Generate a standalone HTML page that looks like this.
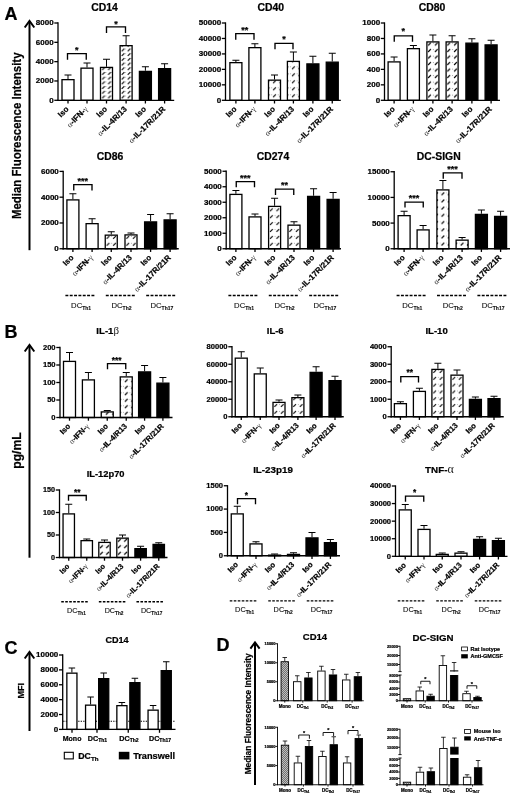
<!DOCTYPE html>
<html><head><meta charset="utf-8"><title>Figure</title>
<style>html,body{margin:0;padding:0;background:#fff}svg{display:block}text{stroke:#000;stroke-width:.22px}text.r,tspan.g{stroke:none}</style>
</head><body>
<svg width="520" height="798" viewBox="0 0 520 798" font-family='"Liberation Sans", sans-serif'>
<defs>
<pattern id="mono" width="2" height="2" patternUnits="userSpaceOnUse">
<rect width="2" height="2" fill="#e4e4e4"/>
<path d="M0 2L2 0M-0.5 0.5L0.5 -0.5M1.5 2.5L2.5 1.5" stroke="#222" stroke-width="0.6"/>
<path d="M0 0L2 2" stroke="#777" stroke-width="0.35"/>
</pattern>
</defs>
<rect width="520" height="798" fill="#fff"/>
<text x="4.6" y="20.2" font-size="18" font-weight="bold" text-anchor="start" fill="#000" >A</text>
<text x="4.6" y="338.4" font-size="18" font-weight="bold" text-anchor="start" fill="#000" >B</text>
<text x="4.6" y="653.8" font-size="18" font-weight="bold" text-anchor="start" fill="#000" >C</text>
<text x="216.4" y="651.3" font-size="18" font-weight="bold" text-anchor="start" fill="#000" >D</text>
<line x1="29.5" y1="22" x2="29.5" y2="250.2" stroke="#000" stroke-width="2" />
<polyline points="24.7,27.5 29.5,21 34.3,27.5" fill="none" stroke="#000" stroke-width="2" stroke-linejoin="miter"/>
<text x="21" y="135.8" font-size="12" font-weight="bold" text-anchor="middle" fill="#000" transform="rotate(-90 21 135.8)" textLength="166.6" lengthAdjust="spacingAndGlyphs">Median Fluorescence Intensity</text>
<line x1="29.5" y1="346" x2="29.5" y2="557.7" stroke="#000" stroke-width="2" />
<polyline points="24.7,351.5 29.5,345 34.3,351.5" fill="none" stroke="#000" stroke-width="2" stroke-linejoin="miter"/>
<text x="20.5" y="450.5" font-size="12.2" font-weight="bold" text-anchor="middle" fill="#000" transform="rotate(-90 20.5 450.5)" >pg/mL</text>
<line x1="29.5" y1="653" x2="29.5" y2="731" stroke="#000" stroke-width="2" />
<polyline points="24.7,658.5 29.5,652 34.3,658.5" fill="none" stroke="#000" stroke-width="2" stroke-linejoin="miter"/>
<text x="24.4" y="690.8" font-size="9" font-weight="bold" text-anchor="middle" fill="#000" transform="rotate(-90 24.4 690.8)" >MFI</text>
<line x1="255" y1="643.5" x2="255" y2="785" stroke="#000" stroke-width="2" />
<polyline points="250.4,648.7 255,642.5 259.6,648.7" fill="none" stroke="#000" stroke-width="2" stroke-linejoin="miter"/>
<text x="250.6" y="713.8" font-size="8.7" font-weight="bold" text-anchor="middle" fill="#000" transform="rotate(-90 250.6 713.8)" textLength="121" lengthAdjust="spacingAndGlyphs">Median Fluorescence Intensity</text>
<line x1="68" y1="79" x2="68" y2="75" stroke="#000" stroke-width="1" />
<line x1="64.5" y1="75" x2="71.5" y2="75" stroke="#000" stroke-width="1" />
<rect x="62" y="79.65" width="12" height="20.65" fill="#fff" stroke="#000" stroke-width="1.3"/>
<line x1="87" y1="67.5" x2="87" y2="63" stroke="#000" stroke-width="1" />
<line x1="83.5" y1="63" x2="90.5" y2="63" stroke="#000" stroke-width="1" />
<rect x="81" y="68.15" width="12" height="32.15" fill="#fff" stroke="#000" stroke-width="1.3"/>
<line x1="106.5" y1="66.75" x2="106.5" y2="59.25" stroke="#000" stroke-width="1" />
<line x1="103" y1="59.25" x2="110" y2="59.25" stroke="#000" stroke-width="1" />
<pattern id="h1" width="6" height="4.7" patternUnits="userSpaceOnUse" x="106.5" y="99.3"><rect width="6" height="4.7" fill="#fff"/><line x1="1.65" y1="3.7" x2="4.35" y2="1" stroke="#000" stroke-width="1.15"/><circle cx="5.9" cy="1.35" r="0.42" fill="#444"/></pattern>
<rect x="100.5" y="67.4" width="12" height="32.9" fill="url(#h1)" stroke="#000" stroke-width="1.3"/>
<line x1="126.1" y1="45" x2="126.1" y2="35.75" stroke="#000" stroke-width="1" />
<line x1="122.6" y1="35.75" x2="129.6" y2="35.75" stroke="#000" stroke-width="1" />
<pattern id="h2" width="6" height="4.7" patternUnits="userSpaceOnUse" x="126.1" y="99.3"><rect width="6" height="4.7" fill="#fff"/><line x1="1.65" y1="3.7" x2="4.35" y2="1" stroke="#000" stroke-width="1.15"/><circle cx="5.9" cy="1.35" r="0.42" fill="#444"/></pattern>
<rect x="120.1" y="45.65" width="12" height="54.65" fill="url(#h2)" stroke="#000" stroke-width="1.3"/>
<line x1="145.4" y1="70.75" x2="145.4" y2="66.75" stroke="#000" stroke-width="1" />
<line x1="141.9" y1="66.75" x2="148.9" y2="66.75" stroke="#000" stroke-width="1" />
<rect x="139.4" y="71.4" width="12" height="28.9" fill="#000" stroke="#000" stroke-width="1.3"/>
<line x1="164.6" y1="68" x2="164.6" y2="63.75" stroke="#000" stroke-width="1" />
<line x1="161.1" y1="63.75" x2="168.1" y2="63.75" stroke="#000" stroke-width="1" />
<rect x="158.6" y="68.65" width="12" height="31.65" fill="#000" stroke="#000" stroke-width="1.3"/>
<line x1="58" y1="22.35" x2="58" y2="100.95" stroke="#000" stroke-width="1.3" />
<line x1="57.35" y1="100.3" x2="174.2" y2="100.3" stroke="#000" stroke-width="1.3" />
<line x1="54.3" y1="23" x2="58" y2="23" stroke="#000" stroke-width="1.3" />
<text x="53.6" y="25.48" font-size="8" font-weight="bold" text-anchor="end" fill="#000" >8000</text>
<line x1="54.3" y1="42.33" x2="58" y2="42.33" stroke="#000" stroke-width="1.3" />
<text x="53.6" y="44.8" font-size="8" font-weight="bold" text-anchor="end" fill="#000" >6000</text>
<line x1="54.3" y1="61.65" x2="58" y2="61.65" stroke="#000" stroke-width="1.3" />
<text x="53.6" y="64.13" font-size="8" font-weight="bold" text-anchor="end" fill="#000" >4000</text>
<line x1="54.3" y1="80.97" x2="58" y2="80.97" stroke="#000" stroke-width="1.3" />
<text x="53.6" y="83.45" font-size="8" font-weight="bold" text-anchor="end" fill="#000" >2000</text>
<line x1="54.3" y1="100.3" x2="58" y2="100.3" stroke="#000" stroke-width="1.3" />
<text x="53.6" y="102.78" font-size="8" font-weight="bold" text-anchor="end" fill="#000" >0</text>
<line x1="68" y1="100.3" x2="68" y2="103.5" stroke="#000" stroke-width="1.3" />
<text x="69.3" y="109.6" font-size="8" font-weight="bold" text-anchor="end" fill="#000" transform="rotate(-45 69.3 109.6)" >Iso</text>
<line x1="87" y1="100.3" x2="87" y2="103.5" stroke="#000" stroke-width="1.3" />
<text x="88.3" y="109.6" font-size="8" font-weight="bold" text-anchor="end" fill="#000" transform="rotate(-45 88.3 109.6)" ><tspan class="g" font-family='"Liberation Serif", serif' font-weight="normal" fill="#333">α</tspan>-IFN-<tspan class="g" font-family='"Liberation Serif", serif' font-weight="normal" fill="#333">γ</tspan></text>
<line x1="106.5" y1="100.3" x2="106.5" y2="103.5" stroke="#000" stroke-width="1.3" />
<text x="107.8" y="109.6" font-size="8" font-weight="bold" text-anchor="end" fill="#000" transform="rotate(-45 107.8 109.6)" >Iso</text>
<line x1="126.1" y1="100.3" x2="126.1" y2="103.5" stroke="#000" stroke-width="1.3" />
<text x="127.4" y="109.6" font-size="8" font-weight="bold" text-anchor="end" fill="#000" transform="rotate(-45 127.4 109.6)" ><tspan class="g" font-family='"Liberation Serif", serif' font-weight="normal" fill="#333">α</tspan>-IL-4R/13</text>
<line x1="145.4" y1="100.3" x2="145.4" y2="103.5" stroke="#000" stroke-width="1.3" />
<text x="146.7" y="109.6" font-size="8" font-weight="bold" text-anchor="end" fill="#000" transform="rotate(-45 146.7 109.6)" >Iso</text>
<line x1="164.6" y1="100.3" x2="164.6" y2="103.5" stroke="#000" stroke-width="1.3" />
<text x="165.9" y="109.6" font-size="8" font-weight="bold" text-anchor="end" fill="#000" transform="rotate(-45 165.9 109.6)" ><tspan class="g" font-family='"Liberation Serif", serif' font-weight="normal" fill="#333">α</tspan>-IL-17R/21R</text>
<polyline points="67.5,59.75 67.5,53.55 86.25,53.55 86.25,59.75" fill="none" stroke="#000" stroke-width="1.35"/>
<text x="76.88" y="53.48" font-size="9" font-weight="bold" text-anchor="middle" fill="#000" >*</text>
<polyline points="106.5,33 106.5,26.9 125.5,26.9 125.5,33" fill="none" stroke="#000" stroke-width="1.35"/>
<text x="116" y="27.09" font-size="9" font-weight="bold" text-anchor="middle" fill="#000" >*</text>
<text x="104.5" y="10.74" font-size="10.4" font-weight="bold" text-anchor="middle" fill="#000" >CD14</text>
<line x1="235.9" y1="62" x2="235.9" y2="60.25" stroke="#000" stroke-width="1" />
<line x1="232.4" y1="60.25" x2="239.4" y2="60.25" stroke="#000" stroke-width="1" />
<rect x="229.9" y="62.65" width="12" height="37.65" fill="#fff" stroke="#000" stroke-width="1.3"/>
<line x1="254.9" y1="47" x2="254.9" y2="43.75" stroke="#000" stroke-width="1" />
<line x1="251.4" y1="43.75" x2="258.4" y2="43.75" stroke="#000" stroke-width="1" />
<rect x="248.9" y="47.65" width="12" height="52.65" fill="#fff" stroke="#000" stroke-width="1.3"/>
<line x1="274.5" y1="79.5" x2="274.5" y2="75" stroke="#000" stroke-width="1" />
<line x1="271" y1="75" x2="278" y2="75" stroke="#000" stroke-width="1" />
<pattern id="h3" width="6.5" height="7" patternUnits="userSpaceOnUse" x="271.25" y="99.3"><rect width="6.5" height="7" fill="#fff"/><line x1="1.9" y1="4.85" x2="4.6" y2="2.15" stroke="#000" stroke-width="1.15"/><circle cx="0.15" cy="2.5" r="0.42" fill="#444"/></pattern>
<rect x="268.5" y="80.15" width="12" height="20.15" fill="url(#h3)" stroke="#000" stroke-width="1.3"/>
<line x1="293.4" y1="60.75" x2="293.4" y2="52" stroke="#000" stroke-width="1" />
<line x1="289.9" y1="52" x2="296.9" y2="52" stroke="#000" stroke-width="1" />
<pattern id="h4" width="6.5" height="7" patternUnits="userSpaceOnUse" x="290.15" y="99.3"><rect width="6.5" height="7" fill="#fff"/><line x1="1.9" y1="4.85" x2="4.6" y2="2.15" stroke="#000" stroke-width="1.15"/><circle cx="0.15" cy="2.5" r="0.42" fill="#444"/></pattern>
<rect x="287.4" y="61.4" width="12" height="38.9" fill="url(#h4)" stroke="#000" stroke-width="1.3"/>
<line x1="312.9" y1="63.25" x2="312.9" y2="56.25" stroke="#000" stroke-width="1" />
<line x1="309.4" y1="56.25" x2="316.4" y2="56.25" stroke="#000" stroke-width="1" />
<rect x="306.9" y="63.9" width="12" height="36.4" fill="#000" stroke="#000" stroke-width="1.3"/>
<line x1="332.25" y1="61.5" x2="332.25" y2="53.25" stroke="#000" stroke-width="1" />
<line x1="328.75" y1="53.25" x2="335.75" y2="53.25" stroke="#000" stroke-width="1" />
<rect x="326.25" y="62.15" width="12" height="38.15" fill="#000" stroke="#000" stroke-width="1.3"/>
<line x1="225.5" y1="22.35" x2="225.5" y2="100.95" stroke="#000" stroke-width="1.3" />
<line x1="224.85" y1="100.3" x2="340.8" y2="100.3" stroke="#000" stroke-width="1.3" />
<line x1="221.8" y1="23" x2="225.5" y2="23" stroke="#000" stroke-width="1.3" />
<text x="221.1" y="25.48" font-size="8" font-weight="bold" text-anchor="end" fill="#000" >50000</text>
<line x1="221.8" y1="38.46" x2="225.5" y2="38.46" stroke="#000" stroke-width="1.3" />
<text x="221.1" y="40.94" font-size="8" font-weight="bold" text-anchor="end" fill="#000" >40000</text>
<line x1="221.8" y1="53.92" x2="225.5" y2="53.92" stroke="#000" stroke-width="1.3" />
<text x="221.1" y="56.4" font-size="8" font-weight="bold" text-anchor="end" fill="#000" >30000</text>
<line x1="221.8" y1="69.38" x2="225.5" y2="69.38" stroke="#000" stroke-width="1.3" />
<text x="221.1" y="71.86" font-size="8" font-weight="bold" text-anchor="end" fill="#000" >20000</text>
<line x1="221.8" y1="84.84" x2="225.5" y2="84.84" stroke="#000" stroke-width="1.3" />
<text x="221.1" y="87.32" font-size="8" font-weight="bold" text-anchor="end" fill="#000" >10000</text>
<line x1="221.8" y1="100.3" x2="225.5" y2="100.3" stroke="#000" stroke-width="1.3" />
<text x="221.1" y="102.78" font-size="8" font-weight="bold" text-anchor="end" fill="#000" >0</text>
<line x1="235.9" y1="100.3" x2="235.9" y2="103.5" stroke="#000" stroke-width="1.3" />
<text x="237.2" y="109.6" font-size="8" font-weight="bold" text-anchor="end" fill="#000" transform="rotate(-45 237.2 109.6)" >Iso</text>
<line x1="254.9" y1="100.3" x2="254.9" y2="103.5" stroke="#000" stroke-width="1.3" />
<text x="256.2" y="109.6" font-size="8" font-weight="bold" text-anchor="end" fill="#000" transform="rotate(-45 256.2 109.6)" ><tspan class="g" font-family='"Liberation Serif", serif' font-weight="normal" fill="#333">α</tspan>-IFN-<tspan class="g" font-family='"Liberation Serif", serif' font-weight="normal" fill="#333">γ</tspan></text>
<line x1="274.5" y1="100.3" x2="274.5" y2="103.5" stroke="#000" stroke-width="1.3" />
<text x="275.8" y="109.6" font-size="8" font-weight="bold" text-anchor="end" fill="#000" transform="rotate(-45 275.8 109.6)" >Iso</text>
<line x1="293.4" y1="100.3" x2="293.4" y2="103.5" stroke="#000" stroke-width="1.3" />
<text x="294.7" y="109.6" font-size="8" font-weight="bold" text-anchor="end" fill="#000" transform="rotate(-45 294.7 109.6)" ><tspan class="g" font-family='"Liberation Serif", serif' font-weight="normal" fill="#333">α</tspan>-IL-4R/13</text>
<line x1="312.9" y1="100.3" x2="312.9" y2="103.5" stroke="#000" stroke-width="1.3" />
<text x="314.2" y="109.6" font-size="8" font-weight="bold" text-anchor="end" fill="#000" transform="rotate(-45 314.2 109.6)" >Iso</text>
<line x1="332.25" y1="100.3" x2="332.25" y2="103.5" stroke="#000" stroke-width="1.3" />
<text x="333.55" y="109.6" font-size="8" font-weight="bold" text-anchor="end" fill="#000" transform="rotate(-45 333.55 109.6)" ><tspan class="g" font-family='"Liberation Serif", serif' font-weight="normal" fill="#333">α</tspan>-IL-17R/21R</text>
<polyline points="235.75,39.75 235.75,33.55 254,33.55 254,39.75" fill="none" stroke="#000" stroke-width="1.35"/>
<text x="244.88" y="33.19" font-size="9" font-weight="bold" text-anchor="middle" fill="#000" >**</text>
<polyline points="275,49.25 275,43.3 293,43.3 293,49.25" fill="none" stroke="#000" stroke-width="1.35"/>
<text x="284" y="41.98" font-size="9" font-weight="bold" text-anchor="middle" fill="#000" >*</text>
<text x="270.75" y="10.74" font-size="10.4" font-weight="bold" text-anchor="middle" fill="#000" >CD40</text>
<line x1="394.1" y1="61.25" x2="394.1" y2="57" stroke="#000" stroke-width="1" />
<line x1="390.6" y1="57" x2="397.6" y2="57" stroke="#000" stroke-width="1" />
<rect x="388.1" y="61.9" width="12" height="38.4" fill="#fff" stroke="#000" stroke-width="1.3"/>
<line x1="413.4" y1="48" x2="413.4" y2="45.5" stroke="#000" stroke-width="1" />
<line x1="409.9" y1="45.5" x2="416.9" y2="45.5" stroke="#000" stroke-width="1" />
<rect x="407.4" y="48.65" width="12" height="51.65" fill="#fff" stroke="#000" stroke-width="1.3"/>
<line x1="432.9" y1="41.25" x2="432.9" y2="35" stroke="#000" stroke-width="1" />
<line x1="429.4" y1="35" x2="436.4" y2="35" stroke="#000" stroke-width="1" />
<pattern id="h5" width="6.8" height="6.5" patternUnits="userSpaceOnUse" x="432.9" y="99.3"><rect width="6.8" height="6.5" fill="#fff"/><line x1="2.05" y1="4.6" x2="4.75" y2="1.9" stroke="#000" stroke-width="1.15"/><circle cx="0.3" cy="2.25" r="0.42" fill="#444"/></pattern>
<rect x="426.9" y="41.9" width="12" height="58.4" fill="url(#h5)" stroke="#000" stroke-width="1.3"/>
<line x1="452.1" y1="41.25" x2="452.1" y2="35.75" stroke="#000" stroke-width="1" />
<line x1="448.6" y1="35.75" x2="455.6" y2="35.75" stroke="#000" stroke-width="1" />
<pattern id="h6" width="6.8" height="6.5" patternUnits="userSpaceOnUse" x="452.1" y="99.3"><rect width="6.8" height="6.5" fill="#fff"/><line x1="2.05" y1="4.6" x2="4.75" y2="1.9" stroke="#000" stroke-width="1.15"/><circle cx="0.3" cy="2.25" r="0.42" fill="#444"/></pattern>
<rect x="446.1" y="41.9" width="12" height="58.4" fill="url(#h6)" stroke="#000" stroke-width="1.3"/>
<line x1="471.9" y1="42.5" x2="471.9" y2="38.75" stroke="#000" stroke-width="1" />
<line x1="468.4" y1="38.75" x2="475.4" y2="38.75" stroke="#000" stroke-width="1" />
<rect x="465.9" y="43.15" width="12" height="57.15" fill="#000" stroke="#000" stroke-width="1.3"/>
<line x1="491.1" y1="44.25" x2="491.1" y2="40.25" stroke="#000" stroke-width="1" />
<line x1="487.6" y1="40.25" x2="494.6" y2="40.25" stroke="#000" stroke-width="1" />
<rect x="485.1" y="44.9" width="12" height="55.4" fill="#000" stroke="#000" stroke-width="1.3"/>
<line x1="384.5" y1="22.35" x2="384.5" y2="100.95" stroke="#000" stroke-width="1.3" />
<line x1="383.85" y1="100.3" x2="500" y2="100.3" stroke="#000" stroke-width="1.3" />
<line x1="380.8" y1="23" x2="384.5" y2="23" stroke="#000" stroke-width="1.3" />
<text x="380.1" y="25.48" font-size="8" font-weight="bold" text-anchor="end" fill="#000" >1000</text>
<line x1="380.8" y1="38.46" x2="384.5" y2="38.46" stroke="#000" stroke-width="1.3" />
<text x="380.1" y="40.94" font-size="8" font-weight="bold" text-anchor="end" fill="#000" >800</text>
<line x1="380.8" y1="53.92" x2="384.5" y2="53.92" stroke="#000" stroke-width="1.3" />
<text x="380.1" y="56.4" font-size="8" font-weight="bold" text-anchor="end" fill="#000" >600</text>
<line x1="380.8" y1="69.38" x2="384.5" y2="69.38" stroke="#000" stroke-width="1.3" />
<text x="380.1" y="71.86" font-size="8" font-weight="bold" text-anchor="end" fill="#000" >400</text>
<line x1="380.8" y1="84.84" x2="384.5" y2="84.84" stroke="#000" stroke-width="1.3" />
<text x="380.1" y="87.32" font-size="8" font-weight="bold" text-anchor="end" fill="#000" >200</text>
<line x1="380.8" y1="100.3" x2="384.5" y2="100.3" stroke="#000" stroke-width="1.3" />
<text x="380.1" y="102.78" font-size="8" font-weight="bold" text-anchor="end" fill="#000" >0</text>
<line x1="394.1" y1="100.3" x2="394.1" y2="103.5" stroke="#000" stroke-width="1.3" />
<text x="395.4" y="109.6" font-size="8" font-weight="bold" text-anchor="end" fill="#000" transform="rotate(-45 395.4 109.6)" >Iso</text>
<line x1="413.4" y1="100.3" x2="413.4" y2="103.5" stroke="#000" stroke-width="1.3" />
<text x="414.7" y="109.6" font-size="8" font-weight="bold" text-anchor="end" fill="#000" transform="rotate(-45 414.7 109.6)" ><tspan class="g" font-family='"Liberation Serif", serif' font-weight="normal" fill="#333">α</tspan>-IFN-<tspan class="g" font-family='"Liberation Serif", serif' font-weight="normal" fill="#333">γ</tspan></text>
<line x1="432.9" y1="100.3" x2="432.9" y2="103.5" stroke="#000" stroke-width="1.3" />
<text x="434.2" y="109.6" font-size="8" font-weight="bold" text-anchor="end" fill="#000" transform="rotate(-45 434.2 109.6)" >Iso</text>
<line x1="452.1" y1="100.3" x2="452.1" y2="103.5" stroke="#000" stroke-width="1.3" />
<text x="453.4" y="109.6" font-size="8" font-weight="bold" text-anchor="end" fill="#000" transform="rotate(-45 453.4 109.6)" ><tspan class="g" font-family='"Liberation Serif", serif' font-weight="normal" fill="#333">α</tspan>-IL-4R/13</text>
<line x1="471.9" y1="100.3" x2="471.9" y2="103.5" stroke="#000" stroke-width="1.3" />
<text x="473.2" y="109.6" font-size="8" font-weight="bold" text-anchor="end" fill="#000" transform="rotate(-45 473.2 109.6)" >Iso</text>
<line x1="491.1" y1="100.3" x2="491.1" y2="103.5" stroke="#000" stroke-width="1.3" />
<text x="492.4" y="109.6" font-size="8" font-weight="bold" text-anchor="end" fill="#000" transform="rotate(-45 492.4 109.6)" ><tspan class="g" font-family='"Liberation Serif", serif' font-weight="normal" fill="#333">α</tspan>-IL-17R/21R</text>
<polyline points="394.25,41.75 394.25,35.8 412.5,35.8 412.5,41.75" fill="none" stroke="#000" stroke-width="1.35"/>
<text x="403.38" y="34.19" font-size="9" font-weight="bold" text-anchor="middle" fill="#000" >*</text>
<text x="432" y="10.74" font-size="10.4" font-weight="bold" text-anchor="middle" fill="#000" >CD80</text>
<line x1="72.9" y1="199.25" x2="72.9" y2="193.75" stroke="#000" stroke-width="1" />
<line x1="69.4" y1="193.75" x2="76.4" y2="193.75" stroke="#000" stroke-width="1" />
<rect x="66.9" y="199.9" width="12" height="48.85" fill="#fff" stroke="#000" stroke-width="1.3"/>
<line x1="92.1" y1="223" x2="92.1" y2="218.75" stroke="#000" stroke-width="1" />
<line x1="88.6" y1="218.75" x2="95.6" y2="218.75" stroke="#000" stroke-width="1" />
<rect x="86.1" y="223.65" width="12" height="25.1" fill="#fff" stroke="#000" stroke-width="1.3"/>
<line x1="111.25" y1="234.5" x2="111.25" y2="231.75" stroke="#000" stroke-width="1" />
<line x1="107.75" y1="231.75" x2="114.75" y2="231.75" stroke="#000" stroke-width="1" />
<pattern id="h7" width="6.5" height="6.9" patternUnits="userSpaceOnUse" x="111.25" y="247.75"><rect width="6.5" height="6.9" fill="#fff"/><line x1="1.9" y1="4.8" x2="4.6" y2="2.1" stroke="#000" stroke-width="1.15"/><circle cx="0.15" cy="2.45" r="0.42" fill="#444"/></pattern>
<rect x="105.25" y="235.15" width="12" height="13.6" fill="url(#h7)" stroke="#000" stroke-width="1.3"/>
<line x1="131" y1="234.25" x2="131" y2="233" stroke="#000" stroke-width="1" />
<line x1="127.5" y1="233" x2="134.5" y2="233" stroke="#000" stroke-width="1" />
<pattern id="h8" width="6.5" height="6.9" patternUnits="userSpaceOnUse" x="131" y="247.75"><rect width="6.5" height="6.9" fill="#fff"/><line x1="1.9" y1="4.8" x2="4.6" y2="2.1" stroke="#000" stroke-width="1.15"/><circle cx="0.15" cy="2.45" r="0.42" fill="#444"/></pattern>
<rect x="125" y="234.9" width="12" height="13.85" fill="url(#h8)" stroke="#000" stroke-width="1.3"/>
<line x1="150.6" y1="221.25" x2="150.6" y2="214.5" stroke="#000" stroke-width="1" />
<line x1="147.1" y1="214.5" x2="154.1" y2="214.5" stroke="#000" stroke-width="1" />
<rect x="144.6" y="221.9" width="12" height="26.85" fill="#000" stroke="#000" stroke-width="1.3"/>
<line x1="170.1" y1="219.25" x2="170.1" y2="213.75" stroke="#000" stroke-width="1" />
<line x1="166.6" y1="213.75" x2="173.6" y2="213.75" stroke="#000" stroke-width="1" />
<rect x="164.1" y="219.9" width="12" height="28.85" fill="#000" stroke="#000" stroke-width="1.3"/>
<line x1="63.2" y1="170.75" x2="63.2" y2="249.4" stroke="#000" stroke-width="1.3" />
<line x1="62.55" y1="248.75" x2="178.75" y2="248.75" stroke="#000" stroke-width="1.3" />
<line x1="59.5" y1="171.4" x2="63.2" y2="171.4" stroke="#000" stroke-width="1.3" />
<text x="58.8" y="173.88" font-size="8" font-weight="bold" text-anchor="end" fill="#000" >6000</text>
<line x1="59.5" y1="197.18" x2="63.2" y2="197.18" stroke="#000" stroke-width="1.3" />
<text x="58.8" y="199.66" font-size="8" font-weight="bold" text-anchor="end" fill="#000" >4000</text>
<line x1="59.5" y1="222.97" x2="63.2" y2="222.97" stroke="#000" stroke-width="1.3" />
<text x="58.8" y="225.45" font-size="8" font-weight="bold" text-anchor="end" fill="#000" >2000</text>
<line x1="59.5" y1="248.75" x2="63.2" y2="248.75" stroke="#000" stroke-width="1.3" />
<text x="58.8" y="251.23" font-size="8" font-weight="bold" text-anchor="end" fill="#000" >0</text>
<line x1="72.9" y1="248.75" x2="72.9" y2="251.95" stroke="#000" stroke-width="1.3" />
<text x="74.2" y="258.05" font-size="8" font-weight="bold" text-anchor="end" fill="#000" transform="rotate(-45 74.2 258.05)" >Iso</text>
<line x1="92.1" y1="248.75" x2="92.1" y2="251.95" stroke="#000" stroke-width="1.3" />
<text x="93.4" y="258.05" font-size="8" font-weight="bold" text-anchor="end" fill="#000" transform="rotate(-45 93.4 258.05)" ><tspan class="g" font-family='"Liberation Serif", serif' font-weight="normal" fill="#333">α</tspan>-IFN-<tspan class="g" font-family='"Liberation Serif", serif' font-weight="normal" fill="#333">γ</tspan></text>
<line x1="111.25" y1="248.75" x2="111.25" y2="251.95" stroke="#000" stroke-width="1.3" />
<text x="112.55" y="258.05" font-size="8" font-weight="bold" text-anchor="end" fill="#000" transform="rotate(-45 112.55 258.05)" >Iso</text>
<line x1="131" y1="248.75" x2="131" y2="251.95" stroke="#000" stroke-width="1.3" />
<text x="132.3" y="258.05" font-size="8" font-weight="bold" text-anchor="end" fill="#000" transform="rotate(-45 132.3 258.05)" ><tspan class="g" font-family='"Liberation Serif", serif' font-weight="normal" fill="#333">α</tspan>-IL-4R/13</text>
<line x1="150.6" y1="248.75" x2="150.6" y2="251.95" stroke="#000" stroke-width="1.3" />
<text x="151.9" y="258.05" font-size="8" font-weight="bold" text-anchor="end" fill="#000" transform="rotate(-45 151.9 258.05)" >Iso</text>
<line x1="170.1" y1="248.75" x2="170.1" y2="251.95" stroke="#000" stroke-width="1.3" />
<text x="171.4" y="258.05" font-size="8" font-weight="bold" text-anchor="end" fill="#000" transform="rotate(-45 171.4 258.05)" ><tspan class="g" font-family='"Liberation Serif", serif' font-weight="normal" fill="#333">α</tspan>-IL-17R/21R</text>
<polyline points="73.75,190.5 73.75,184.55 92,184.55 92,190.5" fill="none" stroke="#000" stroke-width="1.35"/>
<text x="82.88" y="183.69" font-size="9" font-weight="bold" text-anchor="middle" fill="#000" >***</text>
<text x="110" y="159.64" font-size="10.4" font-weight="bold" text-anchor="middle" fill="#000" >CD86</text>
<line x1="65.4" y1="295.5" x2="94.4" y2="295.5" stroke="#000" stroke-width="1.3" stroke-dasharray="2.94 1.4"/>
<text class="r" x="81.1" y="307.5" font-size="7.7" font-weight="normal" text-anchor="middle" fill="#111" style="stroke:#111;stroke-width:.12px">DC<tspan font-size="5" font-weight="bold" dy="2.1">Th1</tspan></text>
<line x1="105.8" y1="295.5" x2="134.8" y2="295.5" stroke="#000" stroke-width="1.3" stroke-dasharray="2.94 1.4"/>
<text class="r" x="121.5" y="307.5" font-size="7.7" font-weight="normal" text-anchor="middle" fill="#111" style="stroke:#111;stroke-width:.12px">DC<tspan font-size="5" font-weight="bold" dy="2.1">Th2</tspan></text>
<line x1="146.2" y1="295.5" x2="175.2" y2="295.5" stroke="#000" stroke-width="1.3" stroke-dasharray="2.94 1.4"/>
<text class="r" x="161.9" y="307.5" font-size="7.7" font-weight="normal" text-anchor="middle" fill="#111" style="stroke:#111;stroke-width:.12px">DC<tspan font-size="5" font-weight="bold" dy="2.1">Th17</tspan></text>
<line x1="235.9" y1="193.75" x2="235.9" y2="190.5" stroke="#000" stroke-width="1" />
<line x1="232.4" y1="190.5" x2="239.4" y2="190.5" stroke="#000" stroke-width="1" />
<rect x="229.9" y="194.4" width="12" height="54.35" fill="#fff" stroke="#000" stroke-width="1.3"/>
<line x1="255" y1="216.25" x2="255" y2="214" stroke="#000" stroke-width="1" />
<line x1="251.5" y1="214" x2="258.5" y2="214" stroke="#000" stroke-width="1" />
<rect x="249" y="216.9" width="12" height="31.85" fill="#fff" stroke="#000" stroke-width="1.3"/>
<line x1="274.6" y1="205.75" x2="274.6" y2="198.25" stroke="#000" stroke-width="1" />
<line x1="271.1" y1="198.25" x2="278.1" y2="198.25" stroke="#000" stroke-width="1" />
<pattern id="h9" width="6.5" height="6.9" patternUnits="userSpaceOnUse" x="274.6" y="247.75"><rect width="6.5" height="6.9" fill="#fff"/><line x1="1.9" y1="4.8" x2="4.6" y2="2.1" stroke="#000" stroke-width="1.15"/><circle cx="0.15" cy="2.45" r="0.42" fill="#444"/></pattern>
<rect x="268.6" y="206.4" width="12" height="42.35" fill="url(#h9)" stroke="#000" stroke-width="1.3"/>
<line x1="294" y1="224.5" x2="294" y2="221.75" stroke="#000" stroke-width="1" />
<line x1="290.5" y1="221.75" x2="297.5" y2="221.75" stroke="#000" stroke-width="1" />
<pattern id="h10" width="6.5" height="6.9" patternUnits="userSpaceOnUse" x="294" y="247.75"><rect width="6.5" height="6.9" fill="#fff"/><line x1="1.9" y1="4.8" x2="4.6" y2="2.1" stroke="#000" stroke-width="1.15"/><circle cx="0.15" cy="2.45" r="0.42" fill="#444"/></pattern>
<rect x="288" y="225.15" width="12" height="23.6" fill="url(#h10)" stroke="#000" stroke-width="1.3"/>
<line x1="313.6" y1="195.75" x2="313.6" y2="188.75" stroke="#000" stroke-width="1" />
<line x1="310.1" y1="188.75" x2="317.1" y2="188.75" stroke="#000" stroke-width="1" />
<rect x="307.6" y="196.4" width="12" height="52.35" fill="#000" stroke="#000" stroke-width="1.3"/>
<line x1="333.1" y1="198.75" x2="333.1" y2="192.5" stroke="#000" stroke-width="1" />
<line x1="329.6" y1="192.5" x2="336.6" y2="192.5" stroke="#000" stroke-width="1" />
<rect x="327.1" y="199.4" width="12" height="49.35" fill="#000" stroke="#000" stroke-width="1.3"/>
<line x1="226.2" y1="170.6" x2="226.2" y2="249.4" stroke="#000" stroke-width="1.3" />
<line x1="225.55" y1="248.75" x2="341" y2="248.75" stroke="#000" stroke-width="1.3" />
<line x1="222.5" y1="171.25" x2="226.2" y2="171.25" stroke="#000" stroke-width="1.3" />
<text x="221.8" y="173.73" font-size="8" font-weight="bold" text-anchor="end" fill="#000" >5000</text>
<line x1="222.5" y1="186.75" x2="226.2" y2="186.75" stroke="#000" stroke-width="1.3" />
<text x="221.8" y="189.23" font-size="8" font-weight="bold" text-anchor="end" fill="#000" >4000</text>
<line x1="222.5" y1="202.25" x2="226.2" y2="202.25" stroke="#000" stroke-width="1.3" />
<text x="221.8" y="204.73" font-size="8" font-weight="bold" text-anchor="end" fill="#000" >3000</text>
<line x1="222.5" y1="217.75" x2="226.2" y2="217.75" stroke="#000" stroke-width="1.3" />
<text x="221.8" y="220.23" font-size="8" font-weight="bold" text-anchor="end" fill="#000" >2000</text>
<line x1="222.5" y1="233.25" x2="226.2" y2="233.25" stroke="#000" stroke-width="1.3" />
<text x="221.8" y="235.73" font-size="8" font-weight="bold" text-anchor="end" fill="#000" >1000</text>
<line x1="222.5" y1="248.75" x2="226.2" y2="248.75" stroke="#000" stroke-width="1.3" />
<text x="221.8" y="251.23" font-size="8" font-weight="bold" text-anchor="end" fill="#000" >0</text>
<line x1="235.9" y1="248.75" x2="235.9" y2="251.95" stroke="#000" stroke-width="1.3" />
<text x="237.2" y="258.05" font-size="8" font-weight="bold" text-anchor="end" fill="#000" transform="rotate(-45 237.2 258.05)" >Iso</text>
<line x1="255" y1="248.75" x2="255" y2="251.95" stroke="#000" stroke-width="1.3" />
<text x="256.3" y="258.05" font-size="8" font-weight="bold" text-anchor="end" fill="#000" transform="rotate(-45 256.3 258.05)" ><tspan class="g" font-family='"Liberation Serif", serif' font-weight="normal" fill="#333">α</tspan>-IFN-<tspan class="g" font-family='"Liberation Serif", serif' font-weight="normal" fill="#333">γ</tspan></text>
<line x1="274.6" y1="248.75" x2="274.6" y2="251.95" stroke="#000" stroke-width="1.3" />
<text x="275.9" y="258.05" font-size="8" font-weight="bold" text-anchor="end" fill="#000" transform="rotate(-45 275.9 258.05)" >Iso</text>
<line x1="294" y1="248.75" x2="294" y2="251.95" stroke="#000" stroke-width="1.3" />
<text x="295.3" y="258.05" font-size="8" font-weight="bold" text-anchor="end" fill="#000" transform="rotate(-45 295.3 258.05)" ><tspan class="g" font-family='"Liberation Serif", serif' font-weight="normal" fill="#333">α</tspan>-IL-4R/13</text>
<line x1="313.6" y1="248.75" x2="313.6" y2="251.95" stroke="#000" stroke-width="1.3" />
<text x="314.9" y="258.05" font-size="8" font-weight="bold" text-anchor="end" fill="#000" transform="rotate(-45 314.9 258.05)" >Iso</text>
<line x1="333.1" y1="248.75" x2="333.1" y2="251.95" stroke="#000" stroke-width="1.3" />
<text x="334.4" y="258.05" font-size="8" font-weight="bold" text-anchor="end" fill="#000" transform="rotate(-45 334.4 258.05)" ><tspan class="g" font-family='"Liberation Serif", serif' font-weight="normal" fill="#333">α</tspan>-IL-17R/21R</text>
<polyline points="236.25,187.25 236.25,181.55 254.5,181.55 254.5,187.25" fill="none" stroke="#000" stroke-width="1.35"/>
<text x="245.38" y="180.69" font-size="9" font-weight="bold" text-anchor="middle" fill="#000" >***</text>
<polyline points="275.5,195 275.5,189.05 293.75,189.05 293.75,195" fill="none" stroke="#000" stroke-width="1.35"/>
<text x="284.62" y="188.19" font-size="9" font-weight="bold" text-anchor="middle" fill="#000" >**</text>
<text x="273" y="159.64" font-size="10.4" font-weight="bold" text-anchor="middle" fill="#000" >CD274</text>
<line x1="228.4" y1="295.5" x2="257.4" y2="295.5" stroke="#000" stroke-width="1.3" stroke-dasharray="2.94 1.4"/>
<text class="r" x="244.1" y="307.5" font-size="7.7" font-weight="normal" text-anchor="middle" fill="#111" style="stroke:#111;stroke-width:.12px">DC<tspan font-size="5" font-weight="bold" dy="2.1">Th1</tspan></text>
<line x1="268.8" y1="295.5" x2="297.8" y2="295.5" stroke="#000" stroke-width="1.3" stroke-dasharray="2.94 1.4"/>
<text class="r" x="284.5" y="307.5" font-size="7.7" font-weight="normal" text-anchor="middle" fill="#111" style="stroke:#111;stroke-width:.12px">DC<tspan font-size="5" font-weight="bold" dy="2.1">Th2</tspan></text>
<line x1="309.2" y1="295.5" x2="338.2" y2="295.5" stroke="#000" stroke-width="1.3" stroke-dasharray="2.94 1.4"/>
<text class="r" x="324.9" y="307.5" font-size="7.7" font-weight="normal" text-anchor="middle" fill="#111" style="stroke:#111;stroke-width:.12px">DC<tspan font-size="5" font-weight="bold" dy="2.1">Th17</tspan></text>
<line x1="404.1" y1="215" x2="404.1" y2="211.25" stroke="#000" stroke-width="1" />
<line x1="400.6" y1="211.25" x2="407.6" y2="211.25" stroke="#000" stroke-width="1" />
<rect x="398.1" y="215.65" width="12" height="33.1" fill="#fff" stroke="#000" stroke-width="1.3"/>
<line x1="423.1" y1="229.25" x2="423.1" y2="225.5" stroke="#000" stroke-width="1" />
<line x1="419.6" y1="225.5" x2="426.6" y2="225.5" stroke="#000" stroke-width="1" />
<rect x="417.1" y="229.9" width="12" height="18.85" fill="#fff" stroke="#000" stroke-width="1.3"/>
<line x1="442.9" y1="189.25" x2="442.9" y2="180.5" stroke="#000" stroke-width="1" />
<line x1="439.4" y1="180.5" x2="446.4" y2="180.5" stroke="#000" stroke-width="1" />
<pattern id="h11" width="6.3" height="7.2" patternUnits="userSpaceOnUse" x="439.75" y="247.75"><rect width="6.3" height="7.2" fill="#fff"/><line x1="1.8" y1="4.95" x2="4.5" y2="2.25" stroke="#000" stroke-width="1.15"/><circle cx="0.05" cy="2.6" r="0.42" fill="#444"/></pattern>
<rect x="436.9" y="189.9" width="12" height="58.85" fill="url(#h11)" stroke="#000" stroke-width="1.3"/>
<line x1="462.1" y1="239.5" x2="462.1" y2="237.5" stroke="#000" stroke-width="1" />
<line x1="458.6" y1="237.5" x2="465.6" y2="237.5" stroke="#000" stroke-width="1" />
<pattern id="h12" width="6.3" height="7.2" patternUnits="userSpaceOnUse" x="458.95" y="247.75"><rect width="6.3" height="7.2" fill="#fff"/><line x1="1.8" y1="4.95" x2="4.5" y2="2.25" stroke="#000" stroke-width="1.15"/><circle cx="0.05" cy="2.6" r="0.42" fill="#444"/></pattern>
<rect x="456.1" y="240.15" width="12" height="8.6" fill="url(#h12)" stroke="#000" stroke-width="1.3"/>
<line x1="481.4" y1="213.75" x2="481.4" y2="210" stroke="#000" stroke-width="1" />
<line x1="477.9" y1="210" x2="484.9" y2="210" stroke="#000" stroke-width="1" />
<rect x="475.4" y="214.4" width="12" height="34.35" fill="#000" stroke="#000" stroke-width="1.3"/>
<line x1="500.6" y1="215.75" x2="500.6" y2="211.25" stroke="#000" stroke-width="1" />
<line x1="497.1" y1="211.25" x2="504.1" y2="211.25" stroke="#000" stroke-width="1" />
<rect x="494.6" y="216.4" width="12" height="32.35" fill="#000" stroke="#000" stroke-width="1.3"/>
<line x1="394.2" y1="171.1" x2="394.2" y2="249.4" stroke="#000" stroke-width="1.3" />
<line x1="393.55" y1="248.75" x2="510" y2="248.75" stroke="#000" stroke-width="1.3" />
<line x1="390.5" y1="171.75" x2="394.2" y2="171.75" stroke="#000" stroke-width="1.3" />
<text x="389.8" y="174.23" font-size="8" font-weight="bold" text-anchor="end" fill="#000" >15000</text>
<line x1="390.5" y1="197.42" x2="394.2" y2="197.42" stroke="#000" stroke-width="1.3" />
<text x="389.8" y="199.9" font-size="8" font-weight="bold" text-anchor="end" fill="#000" >10000</text>
<line x1="390.5" y1="223.08" x2="394.2" y2="223.08" stroke="#000" stroke-width="1.3" />
<text x="389.8" y="225.56" font-size="8" font-weight="bold" text-anchor="end" fill="#000" >5000</text>
<line x1="390.5" y1="248.75" x2="394.2" y2="248.75" stroke="#000" stroke-width="1.3" />
<text x="389.8" y="251.23" font-size="8" font-weight="bold" text-anchor="end" fill="#000" >0</text>
<line x1="404.1" y1="248.75" x2="404.1" y2="251.95" stroke="#000" stroke-width="1.3" />
<text x="405.4" y="258.05" font-size="8" font-weight="bold" text-anchor="end" fill="#000" transform="rotate(-45 405.4 258.05)" >Iso</text>
<line x1="423.1" y1="248.75" x2="423.1" y2="251.95" stroke="#000" stroke-width="1.3" />
<text x="424.4" y="258.05" font-size="8" font-weight="bold" text-anchor="end" fill="#000" transform="rotate(-45 424.4 258.05)" ><tspan class="g" font-family='"Liberation Serif", serif' font-weight="normal" fill="#333">α</tspan>-IFN-<tspan class="g" font-family='"Liberation Serif", serif' font-weight="normal" fill="#333">γ</tspan></text>
<line x1="442.9" y1="248.75" x2="442.9" y2="251.95" stroke="#000" stroke-width="1.3" />
<text x="444.2" y="258.05" font-size="8" font-weight="bold" text-anchor="end" fill="#000" transform="rotate(-45 444.2 258.05)" >Iso</text>
<line x1="462.1" y1="248.75" x2="462.1" y2="251.95" stroke="#000" stroke-width="1.3" />
<text x="463.4" y="258.05" font-size="8" font-weight="bold" text-anchor="end" fill="#000" transform="rotate(-45 463.4 258.05)" ><tspan class="g" font-family='"Liberation Serif", serif' font-weight="normal" fill="#333">α</tspan>-IL-4R/13</text>
<line x1="481.4" y1="248.75" x2="481.4" y2="251.95" stroke="#000" stroke-width="1.3" />
<text x="482.7" y="258.05" font-size="8" font-weight="bold" text-anchor="end" fill="#000" transform="rotate(-45 482.7 258.05)" >Iso</text>
<line x1="500.6" y1="248.75" x2="500.6" y2="251.95" stroke="#000" stroke-width="1.3" />
<text x="501.9" y="258.05" font-size="8" font-weight="bold" text-anchor="end" fill="#000" transform="rotate(-45 501.9 258.05)" ><tspan class="g" font-family='"Liberation Serif", serif' font-weight="normal" fill="#333">α</tspan>-IL-17R/21R</text>
<polyline points="405,207.5 405,202.05 423.25,202.05 423.25,207.5" fill="none" stroke="#000" stroke-width="1.35"/>
<text x="414.12" y="201.19" font-size="9" font-weight="bold" text-anchor="middle" fill="#000" >***</text>
<polyline points="443.25,178.75 443.25,172.8 462,172.8 462,178.75" fill="none" stroke="#000" stroke-width="1.35"/>
<text x="452.62" y="171.78" font-size="9" font-weight="bold" text-anchor="middle" fill="#000" >***</text>
<text x="438.75" y="159.64" font-size="10.4" font-weight="bold" text-anchor="middle" fill="#000" >DC-SIGN</text>
<line x1="396.6" y1="295.5" x2="425.6" y2="295.5" stroke="#000" stroke-width="1.3" stroke-dasharray="2.94 1.4"/>
<text class="r" x="412.3" y="307.5" font-size="7.7" font-weight="normal" text-anchor="middle" fill="#111" style="stroke:#111;stroke-width:.12px">DC<tspan font-size="5" font-weight="bold" dy="2.1">Th1</tspan></text>
<line x1="437" y1="295.5" x2="466" y2="295.5" stroke="#000" stroke-width="1.3" stroke-dasharray="2.94 1.4"/>
<text class="r" x="452.7" y="307.5" font-size="7.7" font-weight="normal" text-anchor="middle" fill="#111" style="stroke:#111;stroke-width:.12px">DC<tspan font-size="5" font-weight="bold" dy="2.1">Th2</tspan></text>
<line x1="477.4" y1="295.5" x2="506.4" y2="295.5" stroke="#000" stroke-width="1.3" stroke-dasharray="2.94 1.4"/>
<text class="r" x="493.1" y="307.5" font-size="7.7" font-weight="normal" text-anchor="middle" fill="#111" style="stroke:#111;stroke-width:.12px">DC<tspan font-size="5" font-weight="bold" dy="2.1">Th17</tspan></text>
<line x1="69.5" y1="360.75" x2="69.5" y2="352.5" stroke="#000" stroke-width="1" />
<line x1="66" y1="352.5" x2="73" y2="352.5" stroke="#000" stroke-width="1" />
<rect x="63.5" y="361.4" width="12" height="56.1" fill="#fff" stroke="#000" stroke-width="1.3"/>
<line x1="88.4" y1="379.25" x2="88.4" y2="372.5" stroke="#000" stroke-width="1" />
<line x1="84.9" y1="372.5" x2="91.9" y2="372.5" stroke="#000" stroke-width="1" />
<rect x="82.4" y="379.9" width="12" height="37.6" fill="#fff" stroke="#000" stroke-width="1.3"/>
<line x1="107.25" y1="411.25" x2="107.25" y2="410.5" stroke="#000" stroke-width="1" />
<line x1="103.75" y1="410.5" x2="110.75" y2="410.5" stroke="#000" stroke-width="1" />
<pattern id="h13" width="6.5" height="6.5" patternUnits="userSpaceOnUse" x="104" y="416.5"><rect width="6.5" height="6.5" fill="#fff"/><line x1="1.9" y1="4.6" x2="4.6" y2="1.9" stroke="#000" stroke-width="1.15"/><circle cx="0.15" cy="2.25" r="0.42" fill="#444"/></pattern>
<rect x="101.25" y="411.9" width="12" height="5.6" fill="url(#h13)" stroke="#000" stroke-width="1.3"/>
<line x1="126.25" y1="376.25" x2="126.25" y2="372.5" stroke="#000" stroke-width="1" />
<line x1="122.75" y1="372.5" x2="129.75" y2="372.5" stroke="#000" stroke-width="1" />
<pattern id="h14" width="6.5" height="6.5" patternUnits="userSpaceOnUse" x="123" y="416.5"><rect width="6.5" height="6.5" fill="#fff"/><line x1="1.9" y1="4.6" x2="4.6" y2="1.9" stroke="#000" stroke-width="1.15"/><circle cx="0.15" cy="2.25" r="0.42" fill="#444"/></pattern>
<rect x="120.25" y="376.9" width="12" height="40.6" fill="url(#h14)" stroke="#000" stroke-width="1.3"/>
<line x1="144.6" y1="371.25" x2="144.6" y2="365.5" stroke="#000" stroke-width="1" />
<line x1="141.1" y1="365.5" x2="148.1" y2="365.5" stroke="#000" stroke-width="1" />
<rect x="138.6" y="371.9" width="12" height="45.6" fill="#000" stroke="#000" stroke-width="1.3"/>
<line x1="162.9" y1="382.5" x2="162.9" y2="377.5" stroke="#000" stroke-width="1" />
<line x1="159.4" y1="377.5" x2="166.4" y2="377.5" stroke="#000" stroke-width="1" />
<rect x="156.9" y="383.15" width="12" height="34.35" fill="#000" stroke="#000" stroke-width="1.3"/>
<line x1="60" y1="346.85" x2="60" y2="418.15" stroke="#000" stroke-width="1.3" />
<line x1="59.35" y1="417.5" x2="172.5" y2="417.5" stroke="#000" stroke-width="1.3" />
<line x1="56.3" y1="347.5" x2="60" y2="347.5" stroke="#000" stroke-width="1.3" />
<text x="55.6" y="349.86" font-size="7.6" font-weight="bold" text-anchor="end" fill="#000" >200</text>
<line x1="56.3" y1="365" x2="60" y2="365" stroke="#000" stroke-width="1.3" />
<text x="55.6" y="367.36" font-size="7.6" font-weight="bold" text-anchor="end" fill="#000" >150</text>
<line x1="56.3" y1="382.5" x2="60" y2="382.5" stroke="#000" stroke-width="1.3" />
<text x="55.6" y="384.86" font-size="7.6" font-weight="bold" text-anchor="end" fill="#000" >100</text>
<line x1="56.3" y1="400" x2="60" y2="400" stroke="#000" stroke-width="1.3" />
<text x="55.6" y="402.36" font-size="7.6" font-weight="bold" text-anchor="end" fill="#000" >50</text>
<line x1="56.3" y1="417.5" x2="60" y2="417.5" stroke="#000" stroke-width="1.3" />
<text x="55.6" y="419.86" font-size="7.6" font-weight="bold" text-anchor="end" fill="#000" >0</text>
<line x1="69.5" y1="417.5" x2="69.5" y2="420.7" stroke="#000" stroke-width="1.3" />
<text x="70.8" y="426.8" font-size="7.7" font-weight="bold" text-anchor="end" fill="#000" transform="rotate(-45 70.8 426.8)" >Iso</text>
<line x1="88.4" y1="417.5" x2="88.4" y2="420.7" stroke="#000" stroke-width="1.3" />
<text x="89.7" y="426.8" font-size="7.7" font-weight="bold" text-anchor="end" fill="#000" transform="rotate(-45 89.7 426.8)" ><tspan class="g" font-family='"Liberation Serif", serif' font-weight="normal" fill="#333">α</tspan>-IFN-<tspan class="g" font-family='"Liberation Serif", serif' font-weight="normal" fill="#333">γ</tspan></text>
<line x1="107.25" y1="417.5" x2="107.25" y2="420.7" stroke="#000" stroke-width="1.3" />
<text x="108.55" y="426.8" font-size="7.7" font-weight="bold" text-anchor="end" fill="#000" transform="rotate(-45 108.55 426.8)" >Iso</text>
<line x1="126.25" y1="417.5" x2="126.25" y2="420.7" stroke="#000" stroke-width="1.3" />
<text x="127.55" y="426.8" font-size="7.7" font-weight="bold" text-anchor="end" fill="#000" transform="rotate(-45 127.55 426.8)" ><tspan class="g" font-family='"Liberation Serif", serif' font-weight="normal" fill="#333">α</tspan>-IL-4/R13</text>
<line x1="144.6" y1="417.5" x2="144.6" y2="420.7" stroke="#000" stroke-width="1.3" />
<text x="145.9" y="426.8" font-size="7.7" font-weight="bold" text-anchor="end" fill="#000" transform="rotate(-45 145.9 426.8)" >Iso</text>
<line x1="162.9" y1="417.5" x2="162.9" y2="420.7" stroke="#000" stroke-width="1.3" />
<text x="164.2" y="426.8" font-size="7.7" font-weight="bold" text-anchor="end" fill="#000" transform="rotate(-45 164.2 426.8)" ><tspan class="g" font-family='"Liberation Serif", serif' font-weight="normal" fill="#333">α</tspan>-IL-17R/21R</text>
<polyline points="107.5,369.25 107.5,363.55 125.75,363.55 125.75,369.25" fill="none" stroke="#000" stroke-width="1.35"/>
<text x="116.62" y="362.75" font-size="8.4" font-weight="bold" text-anchor="middle" fill="#000" >***</text>
<text x="107.7" y="334.06" font-size="9.6" font-weight="bold" text-anchor="middle" fill="#000" >IL-1<tspan class="g" font-family='"Liberation Serif", serif' font-weight="normal" font-size="11" fill="#222">β</tspan></text>
<line x1="241.25" y1="357.5" x2="241.25" y2="351.75" stroke="#000" stroke-width="1" />
<line x1="237.75" y1="351.75" x2="244.75" y2="351.75" stroke="#000" stroke-width="1" />
<rect x="235.25" y="358.15" width="12" height="58.6" fill="#fff" stroke="#000" stroke-width="1.3"/>
<line x1="260.25" y1="373.25" x2="260.25" y2="368" stroke="#000" stroke-width="1" />
<line x1="256.75" y1="368" x2="263.75" y2="368" stroke="#000" stroke-width="1" />
<rect x="254.25" y="373.9" width="12" height="42.85" fill="#fff" stroke="#000" stroke-width="1.3"/>
<line x1="279" y1="401.75" x2="279" y2="400" stroke="#000" stroke-width="1" />
<line x1="275.5" y1="400" x2="282.5" y2="400" stroke="#000" stroke-width="1" />
<pattern id="h15" width="6.5" height="6.8" patternUnits="userSpaceOnUse" x="279" y="415.75"><rect width="6.5" height="6.8" fill="#fff"/><line x1="1.9" y1="4.75" x2="4.6" y2="2.05" stroke="#000" stroke-width="1.15"/><circle cx="0.15" cy="2.4" r="0.42" fill="#444"/></pattern>
<rect x="273" y="402.4" width="12" height="14.35" fill="url(#h15)" stroke="#000" stroke-width="1.3"/>
<line x1="297.9" y1="397" x2="297.9" y2="395" stroke="#000" stroke-width="1" />
<line x1="294.4" y1="395" x2="301.4" y2="395" stroke="#000" stroke-width="1" />
<pattern id="h16" width="6.5" height="6.8" patternUnits="userSpaceOnUse" x="297.9" y="415.75"><rect width="6.5" height="6.8" fill="#fff"/><line x1="1.9" y1="4.75" x2="4.6" y2="2.05" stroke="#000" stroke-width="1.15"/><circle cx="0.15" cy="2.4" r="0.42" fill="#444"/></pattern>
<rect x="291.9" y="397.65" width="12" height="19.1" fill="url(#h16)" stroke="#000" stroke-width="1.3"/>
<line x1="316.1" y1="371.75" x2="316.1" y2="366.75" stroke="#000" stroke-width="1" />
<line x1="312.6" y1="366.75" x2="319.6" y2="366.75" stroke="#000" stroke-width="1" />
<rect x="310.1" y="372.4" width="12" height="44.35" fill="#000" stroke="#000" stroke-width="1.3"/>
<line x1="335" y1="380" x2="335" y2="376.25" stroke="#000" stroke-width="1" />
<line x1="331.5" y1="376.25" x2="338.5" y2="376.25" stroke="#000" stroke-width="1" />
<rect x="329" y="380.65" width="12" height="36.1" fill="#000" stroke="#000" stroke-width="1.3"/>
<line x1="232" y1="346.1" x2="232" y2="417.4" stroke="#000" stroke-width="1.3" />
<line x1="231.35" y1="416.75" x2="343.75" y2="416.75" stroke="#000" stroke-width="1.3" />
<line x1="228.3" y1="346.75" x2="232" y2="346.75" stroke="#000" stroke-width="1.3" />
<text x="227.6" y="349.11" font-size="7.6" font-weight="bold" text-anchor="end" fill="#000" >80000</text>
<line x1="228.3" y1="364.25" x2="232" y2="364.25" stroke="#000" stroke-width="1.3" />
<text x="227.6" y="366.61" font-size="7.6" font-weight="bold" text-anchor="end" fill="#000" >60000</text>
<line x1="228.3" y1="381.75" x2="232" y2="381.75" stroke="#000" stroke-width="1.3" />
<text x="227.6" y="384.11" font-size="7.6" font-weight="bold" text-anchor="end" fill="#000" >40000</text>
<line x1="228.3" y1="399.25" x2="232" y2="399.25" stroke="#000" stroke-width="1.3" />
<text x="227.6" y="401.61" font-size="7.6" font-weight="bold" text-anchor="end" fill="#000" >20000</text>
<line x1="228.3" y1="416.75" x2="232" y2="416.75" stroke="#000" stroke-width="1.3" />
<text x="227.6" y="419.11" font-size="7.6" font-weight="bold" text-anchor="end" fill="#000" >0</text>
<line x1="241.25" y1="416.75" x2="241.25" y2="419.95" stroke="#000" stroke-width="1.3" />
<text x="242.55" y="426.05" font-size="7.7" font-weight="bold" text-anchor="end" fill="#000" transform="rotate(-45 242.55 426.05)" >Iso</text>
<line x1="260.25" y1="416.75" x2="260.25" y2="419.95" stroke="#000" stroke-width="1.3" />
<text x="261.55" y="426.05" font-size="7.7" font-weight="bold" text-anchor="end" fill="#000" transform="rotate(-45 261.55 426.05)" ><tspan class="g" font-family='"Liberation Serif", serif' font-weight="normal" fill="#333">α</tspan>-IFN-<tspan class="g" font-family='"Liberation Serif", serif' font-weight="normal" fill="#333">γ</tspan></text>
<line x1="279" y1="416.75" x2="279" y2="419.95" stroke="#000" stroke-width="1.3" />
<text x="280.3" y="426.05" font-size="7.7" font-weight="bold" text-anchor="end" fill="#000" transform="rotate(-45 280.3 426.05)" >Iso</text>
<line x1="297.9" y1="416.75" x2="297.9" y2="419.95" stroke="#000" stroke-width="1.3" />
<text x="299.2" y="426.05" font-size="7.7" font-weight="bold" text-anchor="end" fill="#000" transform="rotate(-45 299.2 426.05)" ><tspan class="g" font-family='"Liberation Serif", serif' font-weight="normal" fill="#333">α</tspan>-IL-4/R13</text>
<line x1="316.1" y1="416.75" x2="316.1" y2="419.95" stroke="#000" stroke-width="1.3" />
<text x="317.4" y="426.05" font-size="7.7" font-weight="bold" text-anchor="end" fill="#000" transform="rotate(-45 317.4 426.05)" >Iso</text>
<line x1="335" y1="416.75" x2="335" y2="419.95" stroke="#000" stroke-width="1.3" />
<text x="336.3" y="426.05" font-size="7.7" font-weight="bold" text-anchor="end" fill="#000" transform="rotate(-45 336.3 426.05)" ><tspan class="g" font-family='"Liberation Serif", serif' font-weight="normal" fill="#333">α</tspan>-IL-17R/21R</text>
<text x="275.2" y="334.02" font-size="9.5" font-weight="bold" text-anchor="middle" fill="#000" >IL-6</text>
<line x1="400.4" y1="403" x2="400.4" y2="401.75" stroke="#000" stroke-width="1" />
<line x1="396.9" y1="401.75" x2="403.9" y2="401.75" stroke="#000" stroke-width="1" />
<rect x="394.4" y="403.65" width="12" height="13.1" fill="#fff" stroke="#000" stroke-width="1.3"/>
<line x1="419.4" y1="390.75" x2="419.4" y2="388.25" stroke="#000" stroke-width="1" />
<line x1="415.9" y1="388.25" x2="422.9" y2="388.25" stroke="#000" stroke-width="1" />
<rect x="413.4" y="391.4" width="12" height="25.35" fill="#fff" stroke="#000" stroke-width="1.3"/>
<line x1="437.9" y1="368.75" x2="437.9" y2="363.25" stroke="#000" stroke-width="1" />
<line x1="434.4" y1="363.25" x2="441.4" y2="363.25" stroke="#000" stroke-width="1" />
<pattern id="h17" width="6.4" height="6.8" patternUnits="userSpaceOnUse" x="437.9" y="415.75"><rect width="6.4" height="6.8" fill="#fff"/><line x1="1.85" y1="4.75" x2="4.55" y2="2.05" stroke="#000" stroke-width="1.15"/><circle cx="0.1" cy="2.4" r="0.42" fill="#444"/></pattern>
<rect x="431.9" y="369.4" width="12" height="47.35" fill="url(#h17)" stroke="#000" stroke-width="1.3"/>
<line x1="457" y1="374.5" x2="457" y2="370" stroke="#000" stroke-width="1" />
<line x1="453.5" y1="370" x2="460.5" y2="370" stroke="#000" stroke-width="1" />
<pattern id="h18" width="6.4" height="6.8" patternUnits="userSpaceOnUse" x="457" y="415.75"><rect width="6.4" height="6.8" fill="#fff"/><line x1="1.85" y1="4.75" x2="4.55" y2="2.05" stroke="#000" stroke-width="1.15"/><circle cx="0.1" cy="2.4" r="0.42" fill="#444"/></pattern>
<rect x="451" y="375.15" width="12" height="41.6" fill="url(#h18)" stroke="#000" stroke-width="1.3"/>
<line x1="475.4" y1="398.75" x2="475.4" y2="397" stroke="#000" stroke-width="1" />
<line x1="471.9" y1="397" x2="478.9" y2="397" stroke="#000" stroke-width="1" />
<rect x="469.4" y="399.4" width="12" height="17.35" fill="#000" stroke="#000" stroke-width="1.3"/>
<line x1="494" y1="398" x2="494" y2="396.25" stroke="#000" stroke-width="1" />
<line x1="490.5" y1="396.25" x2="497.5" y2="396.25" stroke="#000" stroke-width="1" />
<rect x="488" y="398.65" width="12" height="18.1" fill="#000" stroke="#000" stroke-width="1.3"/>
<line x1="391.2" y1="346.1" x2="391.2" y2="417.4" stroke="#000" stroke-width="1.3" />
<line x1="390.55" y1="416.75" x2="503.75" y2="416.75" stroke="#000" stroke-width="1.3" />
<line x1="387.5" y1="346.75" x2="391.2" y2="346.75" stroke="#000" stroke-width="1.3" />
<text x="386.8" y="349.11" font-size="7.6" font-weight="bold" text-anchor="end" fill="#000" >4000</text>
<line x1="387.5" y1="364.25" x2="391.2" y2="364.25" stroke="#000" stroke-width="1.3" />
<text x="386.8" y="366.61" font-size="7.6" font-weight="bold" text-anchor="end" fill="#000" >3000</text>
<line x1="387.5" y1="381.75" x2="391.2" y2="381.75" stroke="#000" stroke-width="1.3" />
<text x="386.8" y="384.11" font-size="7.6" font-weight="bold" text-anchor="end" fill="#000" >2000</text>
<line x1="387.5" y1="399.25" x2="391.2" y2="399.25" stroke="#000" stroke-width="1.3" />
<text x="386.8" y="401.61" font-size="7.6" font-weight="bold" text-anchor="end" fill="#000" >1000</text>
<line x1="387.5" y1="416.75" x2="391.2" y2="416.75" stroke="#000" stroke-width="1.3" />
<text x="386.8" y="419.11" font-size="7.6" font-weight="bold" text-anchor="end" fill="#000" >0</text>
<line x1="400.4" y1="416.75" x2="400.4" y2="419.95" stroke="#000" stroke-width="1.3" />
<text x="401.7" y="426.05" font-size="7.7" font-weight="bold" text-anchor="end" fill="#000" transform="rotate(-45 401.7 426.05)" >Iso</text>
<line x1="419.4" y1="416.75" x2="419.4" y2="419.95" stroke="#000" stroke-width="1.3" />
<text x="420.7" y="426.05" font-size="7.7" font-weight="bold" text-anchor="end" fill="#000" transform="rotate(-45 420.7 426.05)" ><tspan class="g" font-family='"Liberation Serif", serif' font-weight="normal" fill="#333">α</tspan>-IFN-<tspan class="g" font-family='"Liberation Serif", serif' font-weight="normal" fill="#333">γ</tspan></text>
<line x1="437.9" y1="416.75" x2="437.9" y2="419.95" stroke="#000" stroke-width="1.3" />
<text x="439.2" y="426.05" font-size="7.7" font-weight="bold" text-anchor="end" fill="#000" transform="rotate(-45 439.2 426.05)" >Iso</text>
<line x1="457" y1="416.75" x2="457" y2="419.95" stroke="#000" stroke-width="1.3" />
<text x="458.3" y="426.05" font-size="7.7" font-weight="bold" text-anchor="end" fill="#000" transform="rotate(-45 458.3 426.05)" ><tspan class="g" font-family='"Liberation Serif", serif' font-weight="normal" fill="#333">α</tspan>-IL-4/R13</text>
<line x1="475.4" y1="416.75" x2="475.4" y2="419.95" stroke="#000" stroke-width="1.3" />
<text x="476.7" y="426.05" font-size="7.7" font-weight="bold" text-anchor="end" fill="#000" transform="rotate(-45 476.7 426.05)" >Iso</text>
<line x1="494" y1="416.75" x2="494" y2="419.95" stroke="#000" stroke-width="1.3" />
<text x="495.3" y="426.05" font-size="7.7" font-weight="bold" text-anchor="end" fill="#000" transform="rotate(-45 495.3 426.05)" ><tspan class="g" font-family='"Liberation Serif", serif' font-weight="normal" fill="#333">α</tspan>-IL-17R/21R</text>
<polyline points="400.8,382.5 400.8,376.6 418.5,376.6 418.5,382.5" fill="none" stroke="#000" stroke-width="1.35"/>
<text x="409.65" y="375.45" font-size="8.4" font-weight="bold" text-anchor="middle" fill="#000" >**</text>
<text x="436.6" y="333.86" font-size="9.6" font-weight="bold" text-anchor="middle" fill="#000" >IL-10</text>
<line x1="68.75" y1="513.25" x2="68.75" y2="504.25" stroke="#000" stroke-width="1" />
<line x1="65.25" y1="504.25" x2="72.25" y2="504.25" stroke="#000" stroke-width="1" />
<rect x="63.05" y="513.9" width="11.4" height="43.6" fill="#fff" stroke="#000" stroke-width="1.3"/>
<line x1="86.75" y1="540" x2="86.75" y2="539" stroke="#000" stroke-width="1" />
<line x1="83.25" y1="539" x2="90.25" y2="539" stroke="#000" stroke-width="1" />
<rect x="81.05" y="540.65" width="11.4" height="16.85" fill="#fff" stroke="#000" stroke-width="1.3"/>
<line x1="104.5" y1="541.75" x2="104.5" y2="540" stroke="#000" stroke-width="1" />
<line x1="101" y1="540" x2="108" y2="540" stroke="#000" stroke-width="1" />
<pattern id="h19" width="6.2" height="6.5" patternUnits="userSpaceOnUse" x="104.5" y="556.5"><rect width="6.2" height="6.5" fill="#fff"/><line x1="1.75" y1="4.6" x2="4.45" y2="1.9" stroke="#000" stroke-width="1.15"/><circle cx="0" cy="2.25" r="0.42" fill="#444"/></pattern>
<rect x="98.8" y="542.4" width="11.4" height="15.1" fill="url(#h19)" stroke="#000" stroke-width="1.3"/>
<line x1="122.5" y1="537.5" x2="122.5" y2="535" stroke="#000" stroke-width="1" />
<line x1="119" y1="535" x2="126" y2="535" stroke="#000" stroke-width="1" />
<pattern id="h20" width="6.2" height="6.5" patternUnits="userSpaceOnUse" x="122.5" y="556.5"><rect width="6.2" height="6.5" fill="#fff"/><line x1="1.75" y1="4.6" x2="4.45" y2="1.9" stroke="#000" stroke-width="1.15"/><circle cx="0" cy="2.25" r="0.42" fill="#444"/></pattern>
<rect x="116.8" y="538.15" width="11.4" height="19.35" fill="url(#h20)" stroke="#000" stroke-width="1.3"/>
<line x1="140.6" y1="548" x2="140.6" y2="546.25" stroke="#000" stroke-width="1" />
<line x1="137.1" y1="546.25" x2="144.1" y2="546.25" stroke="#000" stroke-width="1" />
<rect x="134.9" y="548.65" width="11.4" height="8.85" fill="#000" stroke="#000" stroke-width="1.3"/>
<line x1="158.75" y1="543.75" x2="158.75" y2="542.75" stroke="#000" stroke-width="1" />
<line x1="155.25" y1="542.75" x2="162.25" y2="542.75" stroke="#000" stroke-width="1" />
<rect x="153.05" y="544.4" width="11.4" height="13.1" fill="#000" stroke="#000" stroke-width="1.3"/>
<line x1="59.5" y1="489.35" x2="59.5" y2="558.15" stroke="#000" stroke-width="1.3" />
<line x1="58.85" y1="557.5" x2="167.5" y2="557.5" stroke="#000" stroke-width="1.3" />
<line x1="55.8" y1="490" x2="59.5" y2="490" stroke="#000" stroke-width="1.3" />
<text x="55.1" y="492.23" font-size="7.2" font-weight="bold" text-anchor="end" fill="#000" >150</text>
<line x1="55.8" y1="512.5" x2="59.5" y2="512.5" stroke="#000" stroke-width="1.3" />
<text x="55.1" y="514.73" font-size="7.2" font-weight="bold" text-anchor="end" fill="#000" >100</text>
<line x1="55.8" y1="535" x2="59.5" y2="535" stroke="#000" stroke-width="1.3" />
<text x="55.1" y="537.23" font-size="7.2" font-weight="bold" text-anchor="end" fill="#000" >50</text>
<line x1="55.8" y1="557.5" x2="59.5" y2="557.5" stroke="#000" stroke-width="1.3" />
<text x="55.1" y="559.73" font-size="7.2" font-weight="bold" text-anchor="end" fill="#000" >0</text>
<line x1="68.75" y1="557.5" x2="68.75" y2="560.7" stroke="#000" stroke-width="1.3" />
<text x="70.05" y="566.8" font-size="7.4" font-weight="bold" text-anchor="end" fill="#000" transform="rotate(-45 70.05 566.8)" >Iso</text>
<line x1="86.75" y1="557.5" x2="86.75" y2="560.7" stroke="#000" stroke-width="1.3" />
<text x="88.05" y="566.8" font-size="7.4" font-weight="bold" text-anchor="end" fill="#000" transform="rotate(-45 88.05 566.8)" ><tspan class="g" font-family='"Liberation Serif", serif' font-weight="normal" fill="#333">α</tspan>-IFN-<tspan class="g" font-family='"Liberation Serif", serif' font-weight="normal" fill="#333">γ</tspan></text>
<line x1="104.5" y1="557.5" x2="104.5" y2="560.7" stroke="#000" stroke-width="1.3" />
<text x="105.8" y="566.8" font-size="7.4" font-weight="bold" text-anchor="end" fill="#000" transform="rotate(-45 105.8 566.8)" >Iso</text>
<line x1="122.5" y1="557.5" x2="122.5" y2="560.7" stroke="#000" stroke-width="1.3" />
<text x="123.8" y="566.8" font-size="7.4" font-weight="bold" text-anchor="end" fill="#000" transform="rotate(-45 123.8 566.8)" ><tspan class="g" font-family='"Liberation Serif", serif' font-weight="normal" fill="#333">α</tspan>-IL-4/R13</text>
<line x1="140.6" y1="557.5" x2="140.6" y2="560.7" stroke="#000" stroke-width="1.3" />
<text x="141.9" y="566.8" font-size="7.4" font-weight="bold" text-anchor="end" fill="#000" transform="rotate(-45 141.9 566.8)" >Iso</text>
<line x1="158.75" y1="557.5" x2="158.75" y2="560.7" stroke="#000" stroke-width="1.3" />
<text x="160.05" y="566.8" font-size="7.4" font-weight="bold" text-anchor="end" fill="#000" transform="rotate(-45 160.05 566.8)" ><tspan class="g" font-family='"Liberation Serif", serif' font-weight="normal" fill="#333">α</tspan>-IL-17R/21R</text>
<polyline points="68.5,500.8 68.5,495.5 86.25,495.5 86.25,500.8" fill="none" stroke="#000" stroke-width="1.35"/>
<text x="77.38" y="494.55" font-size="8.4" font-weight="bold" text-anchor="middle" fill="#000" >**</text>
<text x="105.6" y="477.27" font-size="9.35" font-weight="bold" text-anchor="middle" fill="#000" >IL-12p70</text>
<line x1="61.25" y1="601.75" x2="87.75" y2="601.75" stroke="#000" stroke-width="1.3" stroke-dasharray="2.59 1.4"/>
<text class="r" x="76.4" y="612.8" font-size="7.2" font-weight="normal" text-anchor="middle" fill="#111" style="stroke:#111;stroke-width:.12px">DC<tspan font-size="4.7" font-weight="bold" dy="2.1">Th1</tspan></text>
<line x1="98.85" y1="601.75" x2="125.35" y2="601.75" stroke="#000" stroke-width="1.3" stroke-dasharray="2.59 1.4"/>
<text class="r" x="114" y="612.8" font-size="7.2" font-weight="normal" text-anchor="middle" fill="#111" style="stroke:#111;stroke-width:.12px">DC<tspan font-size="4.7" font-weight="bold" dy="2.1">Th2</tspan></text>
<line x1="136.45" y1="601.75" x2="162.95" y2="601.75" stroke="#000" stroke-width="1.3" stroke-dasharray="2.59 1.4"/>
<text class="r" x="151.6" y="612.8" font-size="7.2" font-weight="normal" text-anchor="middle" fill="#111" style="stroke:#111;stroke-width:.12px">DC<tspan font-size="4.7" font-weight="bold" dy="2.1">Th17</tspan></text>
<line x1="237.25" y1="513.25" x2="237.25" y2="506.25" stroke="#000" stroke-width="1" />
<line x1="233.75" y1="506.25" x2="240.75" y2="506.25" stroke="#000" stroke-width="1" />
<rect x="231.25" y="513.9" width="12" height="41.85" fill="#fff" stroke="#000" stroke-width="1.3"/>
<line x1="256" y1="543.25" x2="256" y2="541.75" stroke="#000" stroke-width="1" />
<line x1="252.5" y1="541.75" x2="259.5" y2="541.75" stroke="#000" stroke-width="1" />
<rect x="250" y="543.9" width="12" height="11.85" fill="#fff" stroke="#000" stroke-width="1.3"/>
<line x1="274.6" y1="554.5" x2="274.6" y2="554" stroke="#000" stroke-width="1" />
<line x1="271.1" y1="554" x2="278.1" y2="554" stroke="#000" stroke-width="1" />
<pattern id="h21" width="6.5" height="6.8" patternUnits="userSpaceOnUse" x="274.6" y="554.75"><rect width="6.5" height="6.8" fill="#fff"/><line x1="1.9" y1="4.75" x2="4.6" y2="2.05" stroke="#000" stroke-width="1.15"/><circle cx="0.15" cy="2.4" r="0.42" fill="#444"/></pattern>
<rect x="268.6" y="555.15" width="12" height="0.6" fill="url(#h21)" stroke="#000" stroke-width="1.3"/>
<line x1="293.5" y1="553.75" x2="293.5" y2="552.75" stroke="#000" stroke-width="1" />
<line x1="290" y1="552.75" x2="297" y2="552.75" stroke="#000" stroke-width="1" />
<pattern id="h22" width="6.5" height="6.8" patternUnits="userSpaceOnUse" x="293.5" y="554.75"><rect width="6.5" height="6.8" fill="#fff"/><line x1="1.9" y1="4.75" x2="4.6" y2="2.05" stroke="#000" stroke-width="1.15"/><circle cx="0.15" cy="2.4" r="0.42" fill="#444"/></pattern>
<rect x="287.5" y="554.4" width="12" height="1.35" fill="url(#h22)" stroke="#000" stroke-width="1.3"/>
<line x1="312" y1="537.25" x2="312" y2="532.5" stroke="#000" stroke-width="1" />
<line x1="308.5" y1="532.5" x2="315.5" y2="532.5" stroke="#000" stroke-width="1" />
<rect x="306" y="537.9" width="12" height="17.85" fill="#000" stroke="#000" stroke-width="1.3"/>
<line x1="330.4" y1="542" x2="330.4" y2="539.5" stroke="#000" stroke-width="1" />
<line x1="326.9" y1="539.5" x2="333.9" y2="539.5" stroke="#000" stroke-width="1" />
<rect x="324.4" y="542.65" width="12" height="13.1" fill="#000" stroke="#000" stroke-width="1.3"/>
<line x1="227.5" y1="485.1" x2="227.5" y2="556.4" stroke="#000" stroke-width="1.3" />
<line x1="226.85" y1="555.75" x2="340" y2="555.75" stroke="#000" stroke-width="1.3" />
<line x1="223.8" y1="485.75" x2="227.5" y2="485.75" stroke="#000" stroke-width="1.3" />
<text x="223.1" y="488.11" font-size="7.6" font-weight="bold" text-anchor="end" fill="#000" >1500</text>
<line x1="223.8" y1="509.08" x2="227.5" y2="509.08" stroke="#000" stroke-width="1.3" />
<text x="223.1" y="511.44" font-size="7.6" font-weight="bold" text-anchor="end" fill="#000" >1000</text>
<line x1="223.8" y1="532.42" x2="227.5" y2="532.42" stroke="#000" stroke-width="1.3" />
<text x="223.1" y="534.77" font-size="7.6" font-weight="bold" text-anchor="end" fill="#000" >500</text>
<line x1="223.8" y1="555.75" x2="227.5" y2="555.75" stroke="#000" stroke-width="1.3" />
<text x="223.1" y="558.11" font-size="7.6" font-weight="bold" text-anchor="end" fill="#000" >0</text>
<line x1="237.25" y1="555.75" x2="237.25" y2="558.95" stroke="#000" stroke-width="1.3" />
<text x="238.55" y="565.05" font-size="7.7" font-weight="bold" text-anchor="end" fill="#000" transform="rotate(-45 238.55 565.05)" >Iso</text>
<line x1="256" y1="555.75" x2="256" y2="558.95" stroke="#000" stroke-width="1.3" />
<text x="257.3" y="565.05" font-size="7.7" font-weight="bold" text-anchor="end" fill="#000" transform="rotate(-45 257.3 565.05)" ><tspan class="g" font-family='"Liberation Serif", serif' font-weight="normal" fill="#333">α</tspan>-IFN-<tspan class="g" font-family='"Liberation Serif", serif' font-weight="normal" fill="#333">γ</tspan></text>
<line x1="274.6" y1="555.75" x2="274.6" y2="558.95" stroke="#000" stroke-width="1.3" />
<text x="275.9" y="565.05" font-size="7.7" font-weight="bold" text-anchor="end" fill="#000" transform="rotate(-45 275.9 565.05)" >Iso</text>
<line x1="293.5" y1="555.75" x2="293.5" y2="558.95" stroke="#000" stroke-width="1.3" />
<text x="294.8" y="565.05" font-size="7.7" font-weight="bold" text-anchor="end" fill="#000" transform="rotate(-45 294.8 565.05)" ><tspan class="g" font-family='"Liberation Serif", serif' font-weight="normal" fill="#333">α</tspan>-IL-4/R13</text>
<line x1="312" y1="555.75" x2="312" y2="558.95" stroke="#000" stroke-width="1.3" />
<text x="313.3" y="565.05" font-size="7.7" font-weight="bold" text-anchor="end" fill="#000" transform="rotate(-45 313.3 565.05)" >Iso</text>
<line x1="330.4" y1="555.75" x2="330.4" y2="558.95" stroke="#000" stroke-width="1.3" />
<text x="331.7" y="565.05" font-size="7.7" font-weight="bold" text-anchor="end" fill="#000" transform="rotate(-45 331.7 565.05)" ><tspan class="g" font-family='"Liberation Serif", serif' font-weight="normal" fill="#333">α</tspan>-IL-17R/21R</text>
<polyline points="237.5,504.25 237.5,498.55 255.5,498.55 255.5,504.25" fill="none" stroke="#000" stroke-width="1.35"/>
<text x="246.5" y="497.55" font-size="8.4" font-weight="bold" text-anchor="middle" fill="#000" >*</text>
<text x="273" y="472.53" font-size="9.8" font-weight="bold" text-anchor="middle" fill="#000" >IL-23p19</text>
<line x1="229.75" y1="600.9" x2="256.35" y2="600.9" stroke="#000" stroke-width="1.3" stroke-dasharray="2.6 1.4"/>
<text class="r" x="244.65" y="612.3" font-size="7.3" font-weight="normal" text-anchor="middle" fill="#111" style="stroke:#111;stroke-width:.12px">DC<tspan font-size="4.8" font-weight="bold" dy="2.1">Th1</tspan></text>
<line x1="268.25" y1="600.9" x2="294.85" y2="600.9" stroke="#000" stroke-width="1.3" stroke-dasharray="2.6 1.4"/>
<text class="r" x="283.15" y="612.3" font-size="7.3" font-weight="normal" text-anchor="middle" fill="#111" style="stroke:#111;stroke-width:.12px">DC<tspan font-size="4.8" font-weight="bold" dy="2.1">Th2</tspan></text>
<line x1="306.75" y1="600.9" x2="333.35" y2="600.9" stroke="#000" stroke-width="1.3" stroke-dasharray="2.6 1.4"/>
<text class="r" x="321.65" y="612.3" font-size="7.3" font-weight="normal" text-anchor="middle" fill="#111" style="stroke:#111;stroke-width:.12px">DC<tspan font-size="4.8" font-weight="bold" dy="2.1">Th17</tspan></text>
<line x1="405.25" y1="509.25" x2="405.25" y2="504.5" stroke="#000" stroke-width="1" />
<line x1="401.75" y1="504.5" x2="408.75" y2="504.5" stroke="#000" stroke-width="1" />
<rect x="399.25" y="509.9" width="12" height="46.4" fill="#fff" stroke="#000" stroke-width="1.3"/>
<line x1="424" y1="528.75" x2="424" y2="525.5" stroke="#000" stroke-width="1" />
<line x1="420.5" y1="525.5" x2="427.5" y2="525.5" stroke="#000" stroke-width="1" />
<rect x="418" y="529.4" width="12" height="26.9" fill="#fff" stroke="#000" stroke-width="1.3"/>
<line x1="442.25" y1="553.75" x2="442.25" y2="553" stroke="#000" stroke-width="1" />
<line x1="438.75" y1="553" x2="445.75" y2="553" stroke="#000" stroke-width="1" />
<pattern id="h23" width="6.5" height="6.8" patternUnits="userSpaceOnUse" x="442.25" y="555.3"><rect width="6.5" height="6.8" fill="#fff"/><line x1="1.9" y1="4.75" x2="4.6" y2="2.05" stroke="#000" stroke-width="1.15"/><circle cx="0.15" cy="2.4" r="0.42" fill="#444"/></pattern>
<rect x="436.25" y="554.4" width="12" height="1.9" fill="url(#h23)" stroke="#000" stroke-width="1.3"/>
<line x1="461" y1="552.5" x2="461" y2="551.75" stroke="#000" stroke-width="1" />
<line x1="457.5" y1="551.75" x2="464.5" y2="551.75" stroke="#000" stroke-width="1" />
<pattern id="h24" width="6.5" height="6.8" patternUnits="userSpaceOnUse" x="461" y="555.3"><rect width="6.5" height="6.8" fill="#fff"/><line x1="1.9" y1="4.75" x2="4.6" y2="2.05" stroke="#000" stroke-width="1.15"/><circle cx="0.15" cy="2.4" r="0.42" fill="#444"/></pattern>
<rect x="455" y="553.15" width="12" height="3.15" fill="url(#h24)" stroke="#000" stroke-width="1.3"/>
<line x1="479.6" y1="538.75" x2="479.6" y2="536.75" stroke="#000" stroke-width="1" />
<line x1="476.1" y1="536.75" x2="483.1" y2="536.75" stroke="#000" stroke-width="1" />
<rect x="473.6" y="539.4" width="12" height="16.9" fill="#000" stroke="#000" stroke-width="1.3"/>
<line x1="498.4" y1="540" x2="498.4" y2="538.25" stroke="#000" stroke-width="1" />
<line x1="494.9" y1="538.25" x2="501.9" y2="538.25" stroke="#000" stroke-width="1" />
<rect x="492.4" y="540.65" width="12" height="15.65" fill="#000" stroke="#000" stroke-width="1.3"/>
<line x1="395.5" y1="485.35" x2="395.5" y2="556.95" stroke="#000" stroke-width="1.3" />
<line x1="394.85" y1="556.3" x2="507.5" y2="556.3" stroke="#000" stroke-width="1.3" />
<line x1="391.8" y1="486" x2="395.5" y2="486" stroke="#000" stroke-width="1.3" />
<text x="391.1" y="488.36" font-size="7.6" font-weight="bold" text-anchor="end" fill="#000" >40000</text>
<line x1="391.8" y1="503.57" x2="395.5" y2="503.57" stroke="#000" stroke-width="1.3" />
<text x="391.1" y="505.93" font-size="7.6" font-weight="bold" text-anchor="end" fill="#000" >30000</text>
<line x1="391.8" y1="521.15" x2="395.5" y2="521.15" stroke="#000" stroke-width="1.3" />
<text x="391.1" y="523.51" font-size="7.6" font-weight="bold" text-anchor="end" fill="#000" >20000</text>
<line x1="391.8" y1="538.72" x2="395.5" y2="538.72" stroke="#000" stroke-width="1.3" />
<text x="391.1" y="541.08" font-size="7.6" font-weight="bold" text-anchor="end" fill="#000" >10000</text>
<line x1="391.8" y1="556.3" x2="395.5" y2="556.3" stroke="#000" stroke-width="1.3" />
<text x="391.1" y="558.66" font-size="7.6" font-weight="bold" text-anchor="end" fill="#000" >0</text>
<line x1="405.25" y1="556.3" x2="405.25" y2="559.5" stroke="#000" stroke-width="1.3" />
<text x="406.55" y="565.6" font-size="7.7" font-weight="bold" text-anchor="end" fill="#000" transform="rotate(-45 406.55 565.6)" >Iso</text>
<line x1="424" y1="556.3" x2="424" y2="559.5" stroke="#000" stroke-width="1.3" />
<text x="425.3" y="565.6" font-size="7.7" font-weight="bold" text-anchor="end" fill="#000" transform="rotate(-45 425.3 565.6)" ><tspan class="g" font-family='"Liberation Serif", serif' font-weight="normal" fill="#333">α</tspan>-IFN-<tspan class="g" font-family='"Liberation Serif", serif' font-weight="normal" fill="#333">γ</tspan></text>
<line x1="442.25" y1="556.3" x2="442.25" y2="559.5" stroke="#000" stroke-width="1.3" />
<text x="443.55" y="565.6" font-size="7.7" font-weight="bold" text-anchor="end" fill="#000" transform="rotate(-45 443.55 565.6)" >Iso</text>
<line x1="461" y1="556.3" x2="461" y2="559.5" stroke="#000" stroke-width="1.3" />
<text x="462.3" y="565.6" font-size="7.7" font-weight="bold" text-anchor="end" fill="#000" transform="rotate(-45 462.3 565.6)" ><tspan class="g" font-family='"Liberation Serif", serif' font-weight="normal" fill="#333">α</tspan>-IL-4/R13</text>
<line x1="479.6" y1="556.3" x2="479.6" y2="559.5" stroke="#000" stroke-width="1.3" />
<text x="480.9" y="565.6" font-size="7.7" font-weight="bold" text-anchor="end" fill="#000" transform="rotate(-45 480.9 565.6)" >Iso</text>
<line x1="498.4" y1="556.3" x2="498.4" y2="559.5" stroke="#000" stroke-width="1.3" />
<text x="499.7" y="565.6" font-size="7.7" font-weight="bold" text-anchor="end" fill="#000" transform="rotate(-45 499.7 565.6)" ><tspan class="g" font-family='"Liberation Serif", serif' font-weight="normal" fill="#333">α</tspan>-IL-17R/21R</text>
<polyline points="405.5,501.75 405.5,496.05 423.75,496.05 423.75,501.75" fill="none" stroke="#000" stroke-width="1.35"/>
<text x="414.62" y="494.75" font-size="8.4" font-weight="bold" text-anchor="middle" fill="#000" >*</text>
<text x="439.4" y="472.93" font-size="9.8" font-weight="bold" text-anchor="middle" fill="#000" >TNF-<tspan class="g" font-family='"Liberation Serif", serif' font-weight="normal" font-size="12" fill="#222">α</tspan></text>
<line x1="397.75" y1="600.9" x2="424.35" y2="600.9" stroke="#000" stroke-width="1.3" stroke-dasharray="2.6 1.4"/>
<text class="r" x="412.65" y="612.3" font-size="7.3" font-weight="normal" text-anchor="middle" fill="#111" style="stroke:#111;stroke-width:.12px">DC<tspan font-size="4.8" font-weight="bold" dy="2.1">Th1</tspan></text>
<line x1="436.25" y1="600.9" x2="462.85" y2="600.9" stroke="#000" stroke-width="1.3" stroke-dasharray="2.6 1.4"/>
<text class="r" x="451.15" y="612.3" font-size="7.3" font-weight="normal" text-anchor="middle" fill="#111" style="stroke:#111;stroke-width:.12px">DC<tspan font-size="4.8" font-weight="bold" dy="2.1">Th2</tspan></text>
<line x1="474.75" y1="600.9" x2="501.35" y2="600.9" stroke="#000" stroke-width="1.3" stroke-dasharray="2.6 1.4"/>
<text class="r" x="489.65" y="612.3" font-size="7.3" font-weight="normal" text-anchor="middle" fill="#111" style="stroke:#111;stroke-width:.12px">DC<tspan font-size="4.8" font-weight="bold" dy="2.1">Th17</tspan></text>
<line x1="63.2" y1="721.25" x2="175.5" y2="721.25" stroke="#000" stroke-width="1" stroke-dasharray="1.3 1.2"/>
<line x1="71.9" y1="672.5" x2="71.9" y2="668" stroke="#000" stroke-width="1" />
<line x1="68.65" y1="668" x2="75.15" y2="668" stroke="#000" stroke-width="1" />
<rect x="66.85" y="673.15" width="10.1" height="56.25" fill="#fff" stroke="#000" stroke-width="1.3"/>
<line x1="90.6" y1="704.5" x2="90.6" y2="697" stroke="#000" stroke-width="1" />
<line x1="87.35" y1="697" x2="93.85" y2="697" stroke="#000" stroke-width="1" />
<rect x="85.55" y="705.15" width="10.1" height="24.25" fill="#fff" stroke="#000" stroke-width="1.3"/>
<line x1="103.7" y1="678" x2="103.7" y2="673" stroke="#000" stroke-width="1" />
<line x1="100.45" y1="673" x2="106.95" y2="673" stroke="#000" stroke-width="1" />
<rect x="98.65" y="678.65" width="10.1" height="50.75" fill="#000" stroke="#000" stroke-width="1.3"/>
<line x1="121.9" y1="705" x2="121.9" y2="702.5" stroke="#000" stroke-width="1" />
<line x1="118.65" y1="702.5" x2="125.15" y2="702.5" stroke="#000" stroke-width="1" />
<rect x="116.85" y="705.65" width="10.1" height="23.75" fill="#fff" stroke="#000" stroke-width="1.3"/>
<line x1="134.9" y1="682" x2="134.9" y2="678.25" stroke="#000" stroke-width="1" />
<line x1="131.65" y1="678.25" x2="138.15" y2="678.25" stroke="#000" stroke-width="1" />
<rect x="129.85" y="682.65" width="10.1" height="46.75" fill="#000" stroke="#000" stroke-width="1.3"/>
<line x1="153.1" y1="709.5" x2="153.1" y2="705.5" stroke="#000" stroke-width="1" />
<line x1="149.85" y1="705.5" x2="156.35" y2="705.5" stroke="#000" stroke-width="1" />
<rect x="148.05" y="710.15" width="10.1" height="19.25" fill="#fff" stroke="#000" stroke-width="1.3"/>
<line x1="166.25" y1="670" x2="166.25" y2="661.75" stroke="#000" stroke-width="1" />
<line x1="163" y1="661.75" x2="169.5" y2="661.75" stroke="#000" stroke-width="1" />
<rect x="161.2" y="670.65" width="10.1" height="58.75" fill="#000" stroke="#000" stroke-width="1.3"/>
<line x1="62.7" y1="654.35" x2="62.7" y2="730.05" stroke="#000" stroke-width="1.3" />
<line x1="62.05" y1="729.4" x2="175.5" y2="729.4" stroke="#000" stroke-width="1.3" />
<line x1="59" y1="655" x2="62.7" y2="655" stroke="#000" stroke-width="1.3" />
<text x="58.3" y="657.48" font-size="8" font-weight="bold" text-anchor="end" fill="#000" >10000</text>
<line x1="59" y1="669.88" x2="62.7" y2="669.88" stroke="#000" stroke-width="1.3" />
<text x="58.3" y="672.36" font-size="8" font-weight="bold" text-anchor="end" fill="#000" >8000</text>
<line x1="59" y1="684.76" x2="62.7" y2="684.76" stroke="#000" stroke-width="1.3" />
<text x="58.3" y="687.24" font-size="8" font-weight="bold" text-anchor="end" fill="#000" >6000</text>
<line x1="59" y1="699.64" x2="62.7" y2="699.64" stroke="#000" stroke-width="1.3" />
<text x="58.3" y="702.12" font-size="8" font-weight="bold" text-anchor="end" fill="#000" >4000</text>
<line x1="59" y1="714.52" x2="62.7" y2="714.52" stroke="#000" stroke-width="1.3" />
<text x="58.3" y="717" font-size="8" font-weight="bold" text-anchor="end" fill="#000" >2000</text>
<line x1="59" y1="729.4" x2="62.7" y2="729.4" stroke="#000" stroke-width="1.3" />
<text x="58.3" y="731.88" font-size="8" font-weight="bold" text-anchor="end" fill="#000" >0</text>
<line x1="72" y1="729.4" x2="72" y2="732.8" stroke="#000" stroke-width="1.3" />
<line x1="97" y1="729.4" x2="97" y2="732.8" stroke="#000" stroke-width="1.3" />
<line x1="128.25" y1="729.4" x2="128.25" y2="732.8" stroke="#000" stroke-width="1.3" />
<line x1="159.5" y1="729.4" x2="159.5" y2="732.8" stroke="#000" stroke-width="1.3" />
<text x="72.1" y="740.5" font-size="7" font-weight="bold" text-anchor="middle" fill="#000" >Mono</text>
<text x="97.5" y="740.5" font-size="7.2" font-weight="bold" text-anchor="middle" fill="#000">DC<tspan font-size="5" font-weight="bold" dy="1.8">Th1</tspan></text>
<text x="129" y="740.5" font-size="7.2" font-weight="bold" text-anchor="middle" fill="#000">DC<tspan font-size="5" font-weight="bold" dy="1.8">Th2</tspan></text>
<text x="160" y="740.5" font-size="7.2" font-weight="bold" text-anchor="middle" fill="#000">DC<tspan font-size="5" font-weight="bold" dy="1.8">Th17</tspan></text>
<text x="117" y="642.9" font-size="9.1" font-weight="bold" text-anchor="middle" fill="#000" >CD14</text>
<rect x="64.3" y="752.3" width="9" height="6.6" fill="#fff" stroke="#000" stroke-width="1.1"/>
<text x="78.2" y="758.8" font-size="8.8" font-weight="bold">DC<tspan font-size="6.2" dy="2.2">Th</tspan></text>
<rect x="118.8" y="751.8" width="10.6" height="7.6" fill="#000"/>
<text x="133.2" y="758.8" font-size="9.2" font-weight="bold" text-anchor="start" fill="#000" >Transwell</text>
<line x1="284.75" y1="661.25" x2="284.75" y2="657.5" stroke="#000" stroke-width="0.8" />
<line x1="282.5" y1="657.5" x2="287" y2="657.5" stroke="#000" stroke-width="0.8" />
<rect x="281.05" y="661.7" width="7.4" height="39.05" fill="url(#mono)" stroke="#000" stroke-width="0.9"/>
<line x1="297.25" y1="681.25" x2="297.25" y2="675.75" stroke="#000" stroke-width="0.8" />
<line x1="295" y1="675.75" x2="299.5" y2="675.75" stroke="#000" stroke-width="0.8" />
<rect x="293.55" y="681.7" width="7.4" height="19.05" fill="#fff" stroke="#000" stroke-width="0.9"/>
<line x1="308.4" y1="677.5" x2="308.4" y2="672.5" stroke="#000" stroke-width="0.8" />
<line x1="306.15" y1="672.5" x2="310.65" y2="672.5" stroke="#000" stroke-width="0.8" />
<rect x="304.7" y="677.95" width="7.4" height="22.8" fill="#000" stroke="#000" stroke-width="0.9"/>
<line x1="321.4" y1="670.6" x2="321.4" y2="666.25" stroke="#000" stroke-width="0.8" />
<line x1="319.15" y1="666.25" x2="323.65" y2="666.25" stroke="#000" stroke-width="0.8" />
<rect x="317.7" y="671.05" width="7.4" height="29.7" fill="#fff" stroke="#000" stroke-width="0.9"/>
<line x1="333" y1="674.5" x2="333" y2="669.5" stroke="#000" stroke-width="0.8" />
<line x1="330.75" y1="669.5" x2="335.25" y2="669.5" stroke="#000" stroke-width="0.8" />
<rect x="329.3" y="674.95" width="7.4" height="25.8" fill="#000" stroke="#000" stroke-width="0.9"/>
<line x1="346.25" y1="679.5" x2="346.25" y2="674.25" stroke="#000" stroke-width="0.8" />
<line x1="344" y1="674.25" x2="348.5" y2="674.25" stroke="#000" stroke-width="0.8" />
<rect x="342.55" y="679.95" width="7.4" height="20.8" fill="#fff" stroke="#000" stroke-width="0.9"/>
<line x1="357.9" y1="676.25" x2="357.9" y2="672.5" stroke="#000" stroke-width="0.8" />
<line x1="355.65" y1="672.5" x2="360.15" y2="672.5" stroke="#000" stroke-width="0.8" />
<rect x="354.2" y="676.7" width="7.4" height="24.05" fill="#000" stroke="#000" stroke-width="0.9"/>
<line x1="277.5" y1="643.35" x2="277.5" y2="701.15" stroke="#000" stroke-width="0.9" />
<line x1="277.1" y1="700.75" x2="363.75" y2="700.75" stroke="#000" stroke-width="0.9" />
<line x1="275.3" y1="643.75" x2="277.5" y2="643.75" stroke="#000" stroke-width="0.9" />
<text x="275.4" y="645.2" font-size="3.9" font-weight="bold" text-anchor="end" fill="#000" >15000</text>
<line x1="275.3" y1="662.75" x2="277.5" y2="662.75" stroke="#000" stroke-width="0.9" />
<text x="275.4" y="664.2" font-size="3.9" font-weight="bold" text-anchor="end" fill="#000" >10000</text>
<line x1="275.3" y1="681.75" x2="277.5" y2="681.75" stroke="#000" stroke-width="0.9" />
<text x="275.4" y="683.2" font-size="3.9" font-weight="bold" text-anchor="end" fill="#000" >5000</text>
<line x1="275.3" y1="700.75" x2="277.5" y2="700.75" stroke="#000" stroke-width="0.9" />
<text x="275.4" y="702.2" font-size="3.9" font-weight="bold" text-anchor="end" fill="#000" >0</text>
<line x1="284.75" y1="700.75" x2="284.75" y2="702.55" stroke="#000" stroke-width="0.9" />
<text x="284.75" y="707.65" font-size="4.5" font-weight="bold" text-anchor="middle" fill="#000" >Mono</text>
<line x1="302.8" y1="700.75" x2="302.8" y2="702.55" stroke="#000" stroke-width="0.9" />
<text x="302.8" y="707.65" font-size="4.5" font-weight="bold" text-anchor="middle" fill="#000">DC<tspan font-size="3.1" font-weight="bold" dy="1.2">Th1</tspan></text>
<line x1="327.2" y1="700.75" x2="327.2" y2="702.55" stroke="#000" stroke-width="0.9" />
<text x="327.2" y="707.65" font-size="4.5" font-weight="bold" text-anchor="middle" fill="#000">DC<tspan font-size="3.1" font-weight="bold" dy="1.2">Th2</tspan></text>
<line x1="352.1" y1="700.75" x2="352.1" y2="702.55" stroke="#000" stroke-width="0.9" />
<text x="352.1" y="707.65" font-size="4.5" font-weight="bold" text-anchor="middle" fill="#000">DC<tspan font-size="3.1" font-weight="bold" dy="1.2">Th17</tspan></text>
<text x="315" y="640.2" font-size="9.5" font-weight="bold" text-anchor="middle" fill="#000" >CD14</text>
<line x1="285" y1="744.75" x2="285" y2="741" stroke="#000" stroke-width="0.8" />
<line x1="282.75" y1="741" x2="287.25" y2="741" stroke="#000" stroke-width="0.8" />
<rect x="281.3" y="745.2" width="7.4" height="39.55" fill="url(#mono)" stroke="#000" stroke-width="0.9"/>
<line x1="297.9" y1="762.5" x2="297.9" y2="756.25" stroke="#000" stroke-width="0.8" />
<line x1="295.65" y1="756.25" x2="300.15" y2="756.25" stroke="#000" stroke-width="0.8" />
<rect x="294.2" y="762.95" width="7.4" height="21.8" fill="#fff" stroke="#000" stroke-width="0.9"/>
<line x1="309" y1="746" x2="309" y2="740.5" stroke="#000" stroke-width="0.8" />
<line x1="306.75" y1="740.5" x2="311.25" y2="740.5" stroke="#000" stroke-width="0.8" />
<rect x="305.3" y="746.45" width="7.4" height="38.3" fill="#000" stroke="#000" stroke-width="0.9"/>
<line x1="322.4" y1="756" x2="322.4" y2="751.25" stroke="#000" stroke-width="0.8" />
<line x1="320.15" y1="751.25" x2="324.65" y2="751.25" stroke="#000" stroke-width="0.8" />
<rect x="318.7" y="756.45" width="7.4" height="28.3" fill="#fff" stroke="#000" stroke-width="0.9"/>
<line x1="333.75" y1="744.25" x2="333.75" y2="736.75" stroke="#000" stroke-width="0.8" />
<line x1="331.5" y1="736.75" x2="336" y2="736.75" stroke="#000" stroke-width="0.8" />
<rect x="330.05" y="744.7" width="7.4" height="40.05" fill="#000" stroke="#000" stroke-width="0.9"/>
<line x1="347.1" y1="762.5" x2="347.1" y2="756.75" stroke="#000" stroke-width="0.8" />
<line x1="344.85" y1="756.75" x2="349.35" y2="756.75" stroke="#000" stroke-width="0.8" />
<rect x="343.4" y="762.95" width="7.4" height="21.8" fill="#fff" stroke="#000" stroke-width="0.9"/>
<line x1="358.75" y1="738" x2="358.75" y2="735" stroke="#000" stroke-width="0.8" />
<line x1="356.5" y1="735" x2="361" y2="735" stroke="#000" stroke-width="0.8" />
<rect x="355.05" y="738.45" width="7.4" height="46.3" fill="#000" stroke="#000" stroke-width="0.9"/>
<line x1="277.5" y1="726.85" x2="277.5" y2="785.15" stroke="#000" stroke-width="0.9" />
<line x1="277.1" y1="784.75" x2="364.25" y2="784.75" stroke="#000" stroke-width="0.9" />
<line x1="275.3" y1="727.25" x2="277.5" y2="727.25" stroke="#000" stroke-width="0.9" />
<text x="275.4" y="728.7" font-size="3.9" font-weight="bold" text-anchor="end" fill="#000" >15000</text>
<line x1="275.3" y1="746.42" x2="277.5" y2="746.42" stroke="#000" stroke-width="0.9" />
<text x="275.4" y="747.87" font-size="3.9" font-weight="bold" text-anchor="end" fill="#000" >10000</text>
<line x1="275.3" y1="765.58" x2="277.5" y2="765.58" stroke="#000" stroke-width="0.9" />
<text x="275.4" y="767.03" font-size="3.9" font-weight="bold" text-anchor="end" fill="#000" >5000</text>
<line x1="275.3" y1="784.75" x2="277.5" y2="784.75" stroke="#000" stroke-width="0.9" />
<text x="275.4" y="786.2" font-size="3.9" font-weight="bold" text-anchor="end" fill="#000" >0</text>
<polyline points="298.75,738.75 298.75,735 309.4,735 309.4,738.75" fill="none" stroke="#000" stroke-width="0.9"/>
<text x="304.07" y="734.81" font-size="5.5" font-weight="bold" text-anchor="middle" fill="#000" >*</text>
<polyline points="323.1,736 323.1,732.5 333.6,732.5 333.6,736" fill="none" stroke="#000" stroke-width="0.9"/>
<text x="328.35" y="732.31" font-size="5.5" font-weight="bold" text-anchor="middle" fill="#000" >*</text>
<polyline points="348,734.25 348,730.5 358,730.5 358,734.25" fill="none" stroke="#000" stroke-width="0.9"/>
<text x="353" y="730.31" font-size="5.5" font-weight="bold" text-anchor="middle" fill="#000" >*</text>
<line x1="285" y1="784.75" x2="285" y2="786.55" stroke="#000" stroke-width="0.9" />
<text x="285" y="791.65" font-size="4.5" font-weight="bold" text-anchor="middle" fill="#000" >Mono</text>
<line x1="303.4" y1="784.75" x2="303.4" y2="786.55" stroke="#000" stroke-width="0.9" />
<text x="303.4" y="791.65" font-size="4.5" font-weight="bold" text-anchor="middle" fill="#000">DC<tspan font-size="3.1" font-weight="bold" dy="1.2">Th1</tspan></text>
<line x1="328" y1="784.75" x2="328" y2="786.55" stroke="#000" stroke-width="0.9" />
<text x="328" y="791.65" font-size="4.5" font-weight="bold" text-anchor="middle" fill="#000">DC<tspan font-size="3.1" font-weight="bold" dy="1.2">Th2</tspan></text>
<line x1="353" y1="784.75" x2="353" y2="786.55" stroke="#000" stroke-width="0.9" />
<text x="353" y="791.65" font-size="4.5" font-weight="bold" text-anchor="middle" fill="#000">DC<tspan font-size="3.1" font-weight="bold" dy="1.2">Th17</tspan></text>
<rect x="403.3" y="698.7" width="7.4" height="2.05" fill="url(#mono)" stroke="#000" stroke-width="0.9"/>
<line x1="419.75" y1="690.5" x2="419.75" y2="687" stroke="#000" stroke-width="0.8" />
<line x1="417.5" y1="687" x2="422" y2="687" stroke="#000" stroke-width="0.8" />
<rect x="416.05" y="690.95" width="7.4" height="9.8" fill="#fff" stroke="#000" stroke-width="0.9"/>
<line x1="430.6" y1="695.75" x2="430.6" y2="694.25" stroke="#000" stroke-width="0.8" />
<line x1="428.35" y1="694.25" x2="432.85" y2="694.25" stroke="#000" stroke-width="0.8" />
<rect x="426.9" y="696.2" width="7.4" height="4.55" fill="#000" stroke="#000" stroke-width="0.9"/>
<line x1="442.9" y1="665" x2="442.9" y2="655.75" stroke="#000" stroke-width="0.8" />
<line x1="440.65" y1="655.75" x2="445.15" y2="655.75" stroke="#000" stroke-width="0.8" />
<rect x="439.2" y="665.45" width="7.4" height="35.3" fill="#fff" stroke="#000" stroke-width="0.9"/>
<line x1="454.1" y1="673" x2="454.1" y2="662.5" stroke="#000" stroke-width="0.8" />
<line x1="451.85" y1="662.5" x2="456.35" y2="662.5" stroke="#000" stroke-width="0.8" />
<rect x="450.4" y="673.45" width="7.4" height="27.3" fill="#000" stroke="#000" stroke-width="0.9"/>
<line x1="466.5" y1="693.25" x2="466.5" y2="691.25" stroke="#000" stroke-width="0.8" />
<line x1="464.25" y1="691.25" x2="468.75" y2="691.25" stroke="#000" stroke-width="0.8" />
<rect x="462.8" y="693.7" width="7.4" height="7.05" fill="#fff" stroke="#000" stroke-width="0.9"/>
<line x1="477.5" y1="697" x2="477.5" y2="696.25" stroke="#000" stroke-width="0.8" />
<line x1="475.25" y1="696.25" x2="479.75" y2="696.25" stroke="#000" stroke-width="0.8" />
<rect x="473.8" y="697.45" width="7.4" height="3.3" fill="#000" stroke="#000" stroke-width="0.9"/>
<rect x="449.35" y="671.6" width="9.5" height="3.4" fill="#fff"/>
<line x1="400" y1="645.85" x2="400" y2="671.6" stroke="#000" stroke-width="0.9" />
<line x1="400" y1="675" x2="400" y2="701.15" stroke="#000" stroke-width="0.9" />
<line x1="398.4" y1="671.6" x2="401.6" y2="671.6" stroke="#000" stroke-width="0.9" />
<line x1="398.4" y1="675" x2="401.6" y2="675" stroke="#000" stroke-width="0.9" />
<line x1="399.6" y1="700.75" x2="483" y2="700.75" stroke="#000" stroke-width="0.9" />
<line x1="397.8" y1="646.25" x2="400" y2="646.25" stroke="#000" stroke-width="0.9" />
<text x="397.9" y="647.7" font-size="3.9" font-weight="bold" text-anchor="end" fill="#000" >25000</text>
<line x1="397.8" y1="655.5" x2="400" y2="655.5" stroke="#000" stroke-width="0.9" />
<text x="397.9" y="656.95" font-size="3.9" font-weight="bold" text-anchor="end" fill="#000" >20000</text>
<line x1="397.8" y1="664.5" x2="400" y2="664.5" stroke="#000" stroke-width="0.9" />
<text x="397.9" y="665.95" font-size="3.9" font-weight="bold" text-anchor="end" fill="#000" >15000</text>
<line x1="397.8" y1="675.75" x2="400" y2="675.75" stroke="#000" stroke-width="0.9" />
<text x="397.9" y="677.2" font-size="3.9" font-weight="bold" text-anchor="end" fill="#000" >8000</text>
<line x1="397.8" y1="682" x2="400" y2="682" stroke="#000" stroke-width="0.9" />
<text x="397.9" y="683.45" font-size="3.9" font-weight="bold" text-anchor="end" fill="#000" >6000</text>
<line x1="397.8" y1="688.25" x2="400" y2="688.25" stroke="#000" stroke-width="0.9" />
<text x="397.9" y="689.7" font-size="3.9" font-weight="bold" text-anchor="end" fill="#000" >4000</text>
<line x1="397.8" y1="694.5" x2="400" y2="694.5" stroke="#000" stroke-width="0.9" />
<text x="397.9" y="695.95" font-size="3.9" font-weight="bold" text-anchor="end" fill="#000" >2000</text>
<line x1="397.8" y1="700.75" x2="400" y2="700.75" stroke="#000" stroke-width="0.9" />
<text x="397.9" y="702.2" font-size="3.9" font-weight="bold" text-anchor="end" fill="#000" >0</text>
<polyline points="420.75,684.25 420.75,681.25 430,681.25 430,684.25" fill="none" stroke="#000" stroke-width="0.9"/>
<text x="425.38" y="681.06" font-size="5.5" font-weight="bold" text-anchor="middle" fill="#000" >*</text>
<polyline points="467,688.75 467,685.75 476.75,685.75 476.75,688.75" fill="none" stroke="#000" stroke-width="0.9"/>
<text x="471.88" y="685.56" font-size="5.5" font-weight="bold" text-anchor="middle" fill="#000" >*</text>
<line x1="407" y1="700.75" x2="407" y2="702.55" stroke="#000" stroke-width="0.9" />
<text x="407" y="707.65" font-size="4.5" font-weight="bold" text-anchor="middle" fill="#000" >Mono</text>
<line x1="425.2" y1="700.75" x2="425.2" y2="702.55" stroke="#000" stroke-width="0.9" />
<text x="425.2" y="707.65" font-size="4.5" font-weight="bold" text-anchor="middle" fill="#000">DC<tspan font-size="3.1" font-weight="bold" dy="1.2">Th1</tspan></text>
<line x1="448.5" y1="700.75" x2="448.5" y2="702.55" stroke="#000" stroke-width="0.9" />
<text x="448.5" y="707.65" font-size="4.5" font-weight="bold" text-anchor="middle" fill="#000">DC<tspan font-size="3.1" font-weight="bold" dy="1.2">Th2</tspan></text>
<line x1="472" y1="700.75" x2="472" y2="702.55" stroke="#000" stroke-width="0.9" />
<text x="472" y="707.65" font-size="4.5" font-weight="bold" text-anchor="middle" fill="#000">DC<tspan font-size="3.1" font-weight="bold" dy="1.2">Th17</tspan></text>
<line x1="450" y1="670.9" x2="458.3" y2="670.9" stroke="#000" stroke-width="1.1" />
<text x="433" y="640.7" font-size="9.7" font-weight="bold" text-anchor="middle" fill="#000" >DC-SIGN</text>
<rect x="403.3" y="782.2" width="7.4" height="2.55" fill="url(#mono)" stroke="#000" stroke-width="0.9"/>
<line x1="420" y1="771.75" x2="420" y2="767.25" stroke="#000" stroke-width="0.8" />
<line x1="417.75" y1="767.25" x2="422.25" y2="767.25" stroke="#000" stroke-width="0.8" />
<rect x="416.3" y="772.2" width="7.4" height="12.55" fill="#fff" stroke="#000" stroke-width="0.9"/>
<line x1="430.9" y1="771.25" x2="430.9" y2="768" stroke="#000" stroke-width="0.8" />
<line x1="428.65" y1="768" x2="433.15" y2="768" stroke="#000" stroke-width="0.8" />
<rect x="427.2" y="771.7" width="7.4" height="13.05" fill="#000" stroke="#000" stroke-width="0.9"/>
<line x1="443.4" y1="748" x2="443.4" y2="737.25" stroke="#000" stroke-width="0.8" />
<line x1="441.15" y1="737.25" x2="445.65" y2="737.25" stroke="#000" stroke-width="0.8" />
<rect x="439.7" y="748.45" width="7.4" height="36.3" fill="#fff" stroke="#000" stroke-width="0.9"/>
<line x1="454.4" y1="746.75" x2="454.4" y2="738" stroke="#000" stroke-width="0.8" />
<line x1="452.15" y1="738" x2="456.65" y2="738" stroke="#000" stroke-width="0.8" />
<rect x="450.7" y="747.2" width="7.4" height="37.55" fill="#000" stroke="#000" stroke-width="0.9"/>
<line x1="467.1" y1="776.75" x2="467.1" y2="774.75" stroke="#000" stroke-width="0.8" />
<line x1="464.85" y1="774.75" x2="469.35" y2="774.75" stroke="#000" stroke-width="0.8" />
<rect x="463.4" y="777.2" width="7.4" height="7.55" fill="#fff" stroke="#000" stroke-width="0.9"/>
<line x1="478.1" y1="767.25" x2="478.1" y2="760.5" stroke="#000" stroke-width="0.8" />
<line x1="475.85" y1="760.5" x2="480.35" y2="760.5" stroke="#000" stroke-width="0.8" />
<rect x="474.4" y="767.7" width="7.4" height="17.05" fill="#000" stroke="#000" stroke-width="0.9"/>
<rect x="449.65" y="754.6" width="9.5" height="3.4" fill="#fff"/>
<line x1="400" y1="728.85" x2="400" y2="754.6" stroke="#000" stroke-width="0.9" />
<line x1="400" y1="758" x2="400" y2="785.15" stroke="#000" stroke-width="0.9" />
<line x1="398.4" y1="754.6" x2="401.6" y2="754.6" stroke="#000" stroke-width="0.9" />
<line x1="398.4" y1="758" x2="401.6" y2="758" stroke="#000" stroke-width="0.9" />
<line x1="399.6" y1="784.75" x2="483.5" y2="784.75" stroke="#000" stroke-width="0.9" />
<line x1="397.8" y1="729.25" x2="400" y2="729.25" stroke="#000" stroke-width="0.9" />
<text x="397.9" y="730.7" font-size="3.9" font-weight="bold" text-anchor="end" fill="#000" >25000</text>
<line x1="397.8" y1="738" x2="400" y2="738" stroke="#000" stroke-width="0.9" />
<text x="397.9" y="739.45" font-size="3.9" font-weight="bold" text-anchor="end" fill="#000" >20000</text>
<line x1="397.8" y1="747.25" x2="400" y2="747.25" stroke="#000" stroke-width="0.9" />
<text x="397.9" y="748.7" font-size="3.9" font-weight="bold" text-anchor="end" fill="#000" >15000</text>
<line x1="397.8" y1="759.25" x2="400" y2="759.25" stroke="#000" stroke-width="0.9" />
<text x="397.9" y="760.7" font-size="3.9" font-weight="bold" text-anchor="end" fill="#000" >8000</text>
<line x1="397.8" y1="765.62" x2="400" y2="765.62" stroke="#000" stroke-width="0.9" />
<text x="397.9" y="767.08" font-size="3.9" font-weight="bold" text-anchor="end" fill="#000" >6000</text>
<line x1="397.8" y1="772" x2="400" y2="772" stroke="#000" stroke-width="0.9" />
<text x="397.9" y="773.45" font-size="3.9" font-weight="bold" text-anchor="end" fill="#000" >4000</text>
<line x1="397.8" y1="778.38" x2="400" y2="778.38" stroke="#000" stroke-width="0.9" />
<text x="397.9" y="779.83" font-size="3.9" font-weight="bold" text-anchor="end" fill="#000" >2000</text>
<line x1="397.8" y1="784.75" x2="400" y2="784.75" stroke="#000" stroke-width="0.9" />
<text x="397.9" y="786.2" font-size="3.9" font-weight="bold" text-anchor="end" fill="#000" >0</text>
<line x1="407" y1="784.75" x2="407" y2="786.55" stroke="#000" stroke-width="0.9" />
<text x="407" y="791.65" font-size="4.5" font-weight="bold" text-anchor="middle" fill="#000" >Mono</text>
<line x1="425.5" y1="784.75" x2="425.5" y2="786.55" stroke="#000" stroke-width="0.9" />
<text x="425.5" y="791.65" font-size="4.5" font-weight="bold" text-anchor="middle" fill="#000">DC<tspan font-size="3.1" font-weight="bold" dy="1.2">Th1</tspan></text>
<line x1="449" y1="784.75" x2="449" y2="786.55" stroke="#000" stroke-width="0.9" />
<text x="449" y="791.65" font-size="4.5" font-weight="bold" text-anchor="middle" fill="#000">DC<tspan font-size="3.1" font-weight="bold" dy="1.2">Th2</tspan></text>
<line x1="472.6" y1="784.75" x2="472.6" y2="786.55" stroke="#000" stroke-width="0.9" />
<text x="472.6" y="791.65" font-size="4.5" font-weight="bold" text-anchor="middle" fill="#000">DC<tspan font-size="3.1" font-weight="bold" dy="1.2">Th17</tspan></text>
<rect x="461.6" y="647" width="5.8" height="3.8" fill="#fff" stroke="#000" stroke-width="0.8"/>
<text x="470.5" y="650.7" font-size="5.5" font-weight="bold" text-anchor="start" fill="#000" >Rat Isotype</text>
<rect x="461.2" y="654.2" width="6.6" height="4.2" fill="#000"/>
<text x="470.5" y="658.2" font-size="5.5" font-weight="bold" text-anchor="start" fill="#000" >Anti-GMCSF</text>
<rect x="464.6" y="729.6" width="5.8" height="3.8" fill="#fff" stroke="#000" stroke-width="0.8"/>
<text x="473.75" y="733.2" font-size="5.5" font-weight="bold" text-anchor="start" fill="#000" >Mouse Iso</text>
<rect x="464.2" y="736.3" width="6.6" height="4.2" fill="#000"/>
<text x="473.75" y="740.5" font-size="5.5" font-weight="bold" text-anchor="start" fill="#000" >Anti-TNF-<tspan font-family='"Liberation Serif", serif' font-weight="bold">α</tspan></text>
</svg>
</body></html>
